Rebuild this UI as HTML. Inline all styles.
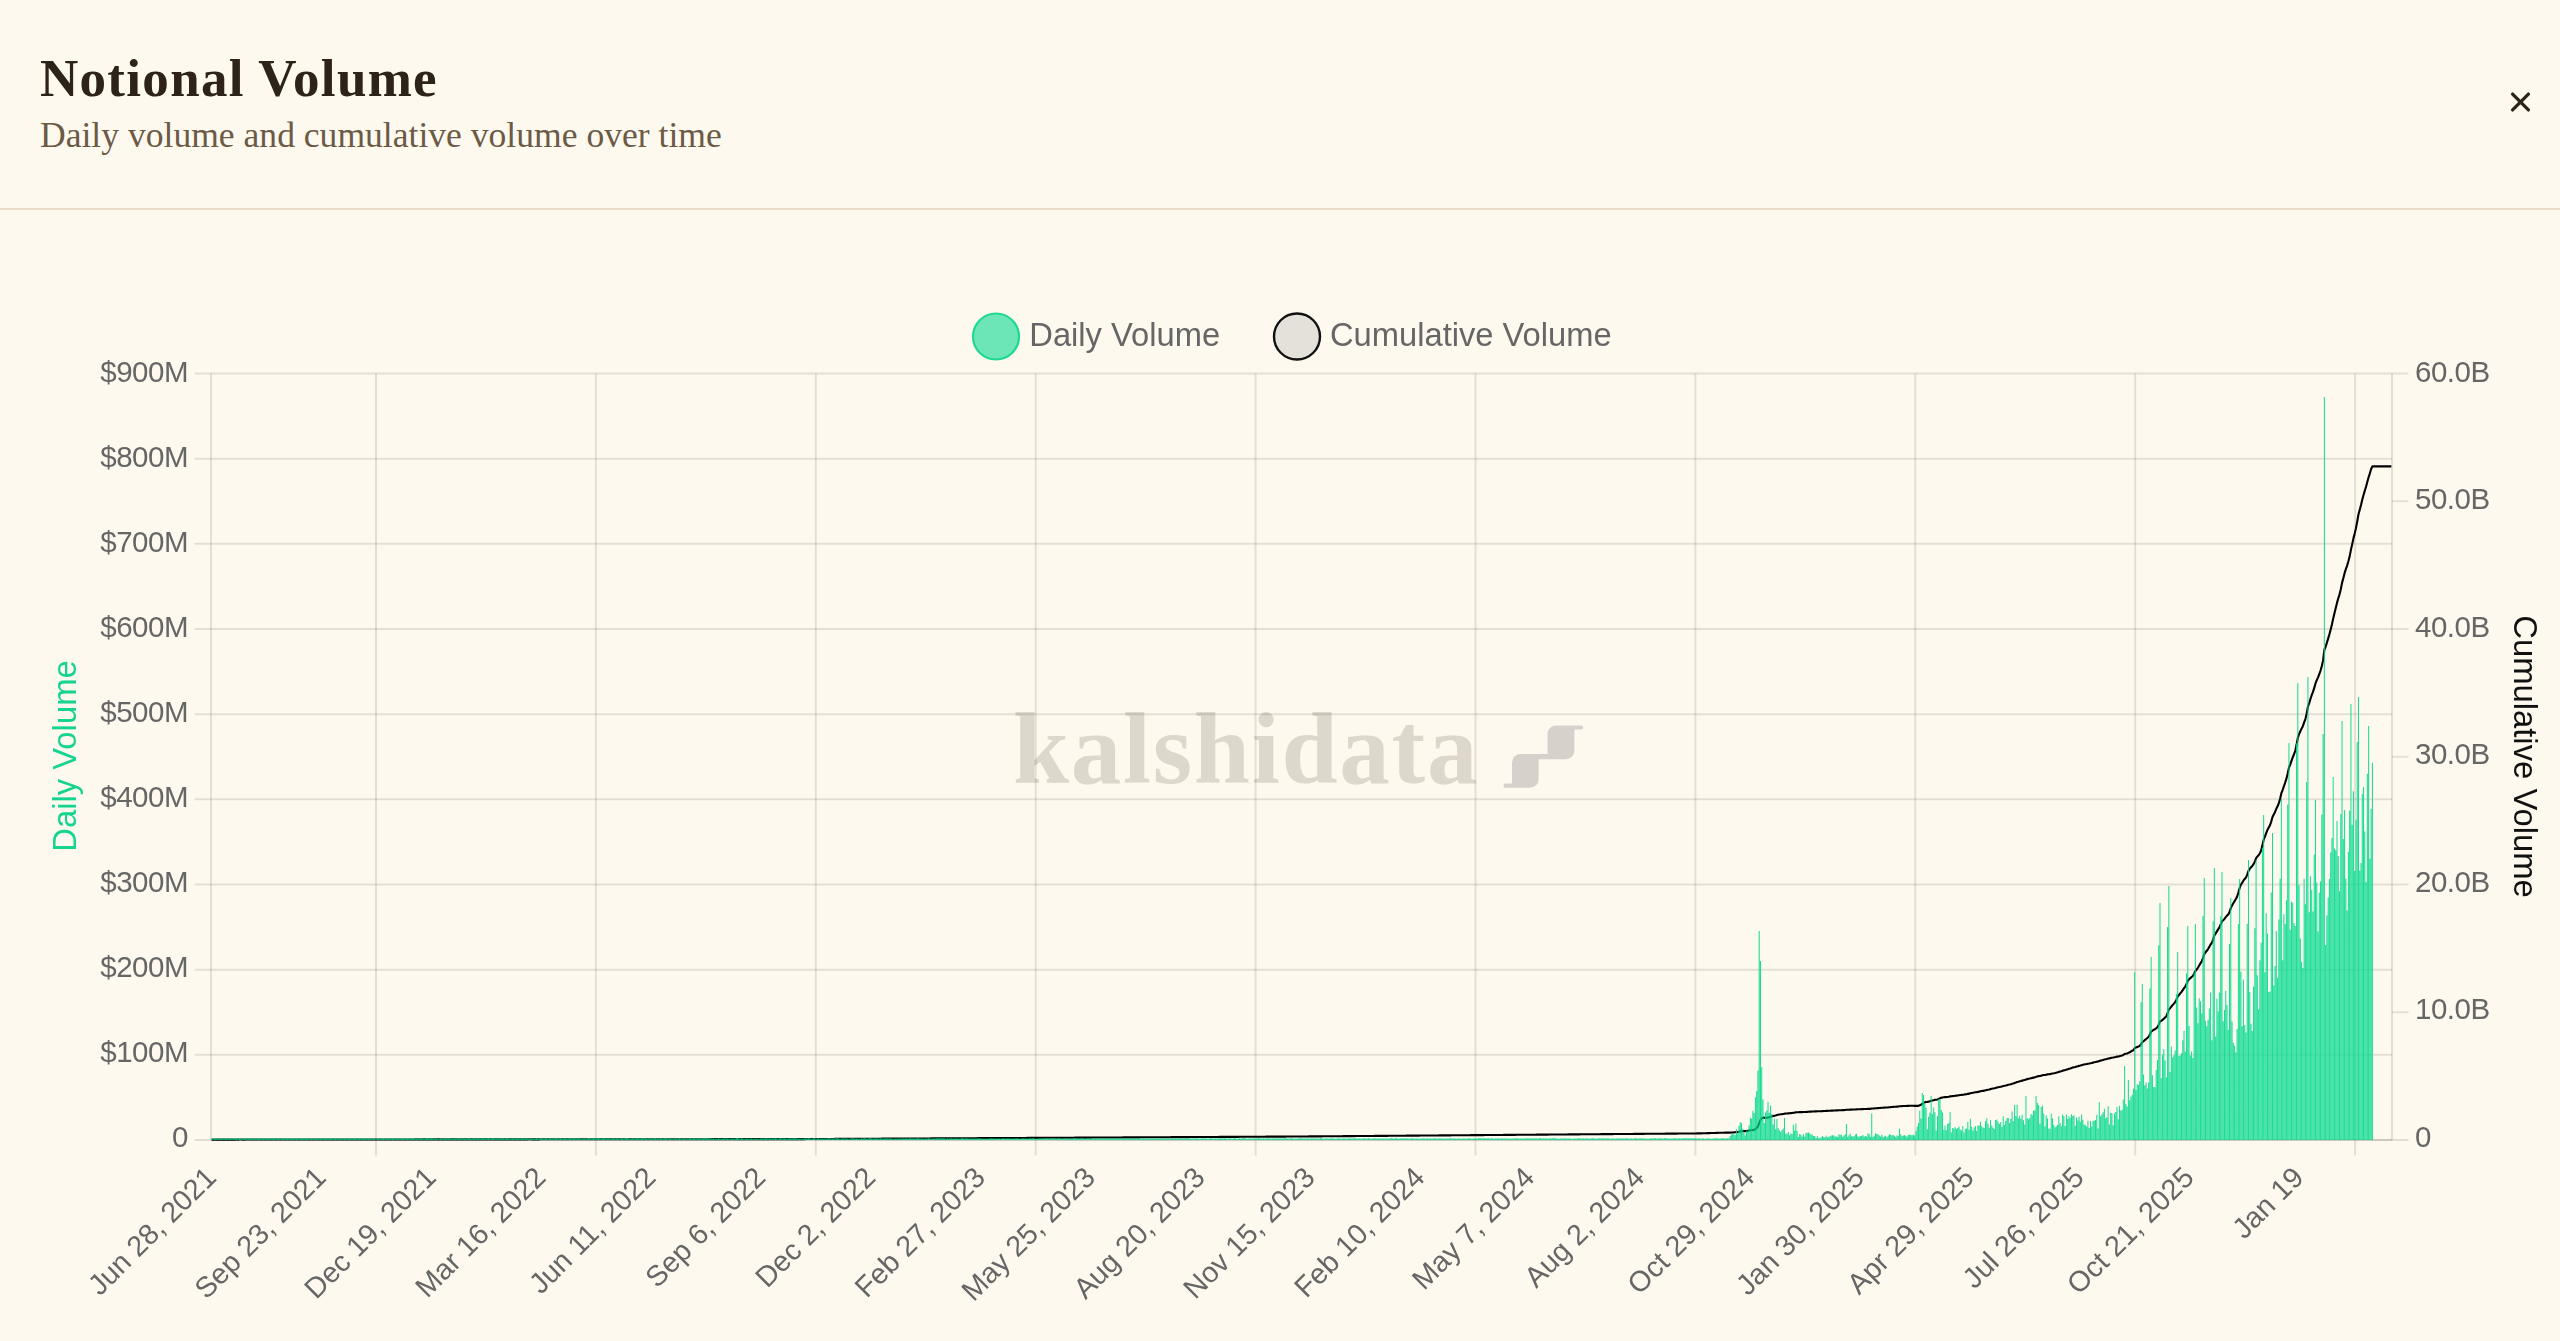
<!DOCTYPE html>
<html><head><meta charset="utf-8"><style>
html,body{margin:0;padding:0;width:2560px;height:1341px;overflow:hidden;background:#FEF9EE;}
.t{position:absolute;left:40px;top:52px;font-family:"Liberation Serif",serif;font-weight:700;font-size:53px;color:#2D2318;white-space:nowrap;letter-spacing:1.3px;line-height:1}
.s{position:absolute;left:40px;top:118px;font-family:"Liberation Serif",serif;font-size:35.6px;color:#6B5A46;white-space:nowrap;line-height:1}
.sep{position:absolute;left:0;top:208px;width:2560px;height:2px;background:#E8DCC8}
svg{position:absolute;left:0;top:0;will-change:transform}
</style></head><body>
<div class="t">Notional Volume</div>
<div class="s">Daily volume and cumulative volume over time</div>
<div class="sep"></div>
<svg width="2560" height="1341" viewBox="0 0 2560 1341">
<path d="M2512.6 94.1 L2528.4 109.9 M2528.4 94.1 L2512.6 109.9" stroke="#2D2318" stroke-width="3.3" stroke-linecap="round" fill="none"/>
<g font-family="'Liberation Serif', serif" font-weight="700" font-size="101" fill="#DDD7CC"><text x="1013" y="782.5" letter-spacing="1.7">kalshidata</text></g>
<path d="M1505.5 783.6 L1512 783.6 L1512 762.6 A8.5 8.5 0 0 1 1520.5 754.1 L1547.5 754.1 L1547.5 733.9 A8.5 8.5 0 0 1 1556 725.4 L1581.2 725.4 A2.1 2.1 0 0 1 1581.2 729.6 L1574.4 729.6 L1574.4 750.7 A8.5 8.5 0 0 1 1565.9 759.2 L1538.6 759.2 L1538.6 779.3 A8.5 8.5 0 0 1 1530.1 787.8 L1505.5 787.8 A2.1 2.1 0 0 1 1505.5 783.6 Z" fill="#D6D2CB"/>
<g stroke="#000" stroke-opacity="0.1" stroke-width="2" fill="none"><line x1="194.6" y1="373.50" x2="2392.0" y2="373.50"/><line x1="194.6" y1="458.67" x2="2392.0" y2="458.67"/><line x1="194.6" y1="543.83" x2="2392.0" y2="543.83"/><line x1="194.6" y1="629.00" x2="2392.0" y2="629.00"/><line x1="194.6" y1="714.17" x2="2392.0" y2="714.17"/><line x1="194.6" y1="799.33" x2="2392.0" y2="799.33"/><line x1="194.6" y1="884.50" x2="2392.0" y2="884.50"/><line x1="194.6" y1="969.67" x2="2392.0" y2="969.67"/><line x1="194.6" y1="1054.83" x2="2392.0" y2="1054.83"/><line x1="194.6" y1="1140.00" x2="2392.0" y2="1140.00"/><line x1="376.0" y1="373.5" x2="376.0" y2="1155.5"/><line x1="595.9" y1="373.5" x2="595.9" y2="1155.5"/><line x1="815.8" y1="373.5" x2="815.8" y2="1155.5"/><line x1="1035.7" y1="373.5" x2="1035.7" y2="1155.5"/><line x1="1255.6" y1="373.5" x2="1255.6" y2="1155.5"/><line x1="1475.5" y1="373.5" x2="1475.5" y2="1155.5"/><line x1="1695.4" y1="373.5" x2="1695.4" y2="1155.5"/><line x1="1915.3" y1="373.5" x2="1915.3" y2="1155.5"/><line x1="2135.2" y1="373.5" x2="2135.2" y2="1155.5"/><line x1="2355.1" y1="373.5" x2="2355.1" y2="1155.5"/><line x1="211.0" y1="373.5" x2="211.0" y2="1140.0"/><line x1="211.0" y1="1140.0" x2="2392.0" y2="1140.0"/><line x1="2392.0" y1="373.5" x2="2392.0" y2="1140.0"/><line x1="2392.0" y1="373.50" x2="2408.5" y2="373.50"/><line x1="2392.0" y1="501.25" x2="2408.5" y2="501.25"/><line x1="2392.0" y1="629.00" x2="2408.5" y2="629.00"/><line x1="2392.0" y1="756.75" x2="2408.5" y2="756.75"/><line x1="2392.0" y1="884.50" x2="2408.5" y2="884.50"/><line x1="2392.0" y1="1012.25" x2="2408.5" y2="1012.25"/><line x1="2392.0" y1="1140.00" x2="2408.5" y2="1140.00"/></g>
<path d="M211.63 1139.68 L212.90 1139.67 L214.16 1139.65 L215.43 1139.64 L216.69 1139.63 L217.95 1139.61 L219.22 1139.60 L220.48 1139.59 L221.75 1139.59 L223.01 1139.59 L224.28 1139.59 L225.54 1139.59 L226.80 1139.59 L228.07 1139.59 L229.33 1139.59 L230.60 1139.59 L231.86 1139.59 L233.13 1139.58 L234.39 1139.58 L235.65 1139.58 L236.92 1139.57 L238.18 1139.58 L239.45 1139.57 L240.71 1139.57 L241.98 1139.57 L243.24 1139.58 L244.51 1139.58 L245.77 1139.57 L247.03 1139.57 L248.30 1139.57 L249.56 1139.56 L250.83 1139.56 L252.09 1139.56 L253.36 1139.56 L254.62 1139.57 L255.88 1139.57 L257.15 1139.56 L258.41 1139.56 L259.68 1139.56 L260.94 1139.56 L262.21 1139.56 L263.47 1139.56 L264.73 1139.56 L266.00 1139.55 L267.26 1139.55 L268.53 1139.55 L269.79 1139.55 L271.06 1139.55 L272.32 1139.55 L273.59 1139.55 L274.85 1139.54 L276.11 1139.54 L277.38 1139.54 L278.64 1139.54 L279.91 1139.54 L281.17 1139.54 L282.44 1139.55 L283.70 1139.54 L284.96 1139.54 L286.23 1139.54 L287.49 1139.53 L288.76 1139.54 L290.02 1139.53 L291.29 1139.53 L292.55 1139.53 L293.81 1139.53 L295.08 1139.53 L296.34 1139.53 L297.61 1139.53 L298.87 1139.52 L300.14 1139.53 L301.40 1139.53 L302.67 1139.52 L303.93 1139.52 L305.19 1139.51 L306.46 1139.51 L307.72 1139.51 L308.99 1139.51 L310.25 1139.51 L311.52 1139.51 L312.78 1139.51 L314.04 1139.51 L315.31 1139.52 L316.57 1139.51 L317.84 1139.51 L319.10 1139.51 L320.37 1139.51 L321.63 1139.51 L322.89 1139.51 L324.16 1139.51 L325.42 1139.51 L326.69 1139.50 L327.95 1139.50 L329.22 1139.50 L330.48 1139.50 L331.75 1139.50 L333.01 1139.50 L334.27 1139.49 L335.54 1139.49 L336.80 1139.49 L338.07 1139.49 L339.33 1139.49 L340.60 1139.49 L341.86 1139.49 L343.12 1139.49 L344.39 1139.49 L345.65 1139.49 L346.92 1139.49 L348.18 1139.49 L349.45 1139.49 L350.71 1139.48 L351.97 1139.48 L353.24 1139.48 L354.50 1139.48 L355.77 1139.48 L357.03 1139.48 L358.30 1139.48 L359.56 1139.47 L360.83 1139.47 L362.09 1139.47 L363.35 1139.46 L364.62 1139.46 L365.88 1139.47 L367.15 1139.46 L368.41 1139.46 L369.68 1139.46 L370.94 1139.46 L372.20 1139.46 L373.47 1139.46 L374.73 1139.46 L376.00 1139.46 L377.26 1139.46 L378.53 1139.46 L379.79 1139.46 L381.05 1139.46 L382.32 1139.46 L383.58 1139.45 L384.85 1139.45 L386.11 1139.45 L387.38 1139.45 L388.64 1139.45 L389.91 1139.45 L391.17 1139.45 L392.43 1139.44 L393.70 1139.44 L394.96 1139.44 L396.23 1139.44 L397.49 1139.44 L398.76 1139.44 L400.02 1139.44 L401.28 1139.44 L402.55 1139.44 L403.81 1139.44 L405.08 1139.44 L406.34 1139.43 L407.61 1139.44 L408.87 1139.43 L410.13 1139.44 L411.40 1139.44 L412.66 1139.43 L413.93 1139.43 L415.19 1139.42 L416.46 1139.42 L417.72 1139.42 L418.99 1139.43 L420.25 1139.42 L421.51 1139.42 L422.78 1139.42 L424.04 1139.42 L425.31 1139.42 L426.57 1139.42 L427.84 1139.42 L429.10 1139.41 L430.36 1139.41 L431.63 1139.41 L432.89 1139.40 L434.16 1139.40 L435.42 1139.40 L436.69 1139.40 L437.95 1139.41 L439.21 1139.41 L440.48 1139.41 L441.74 1139.41 L443.01 1139.41 L444.27 1139.41 L445.54 1139.40 L446.80 1139.40 L448.07 1139.39 L449.33 1139.39 L450.59 1139.39 L451.86 1139.39 L453.12 1139.39 L454.39 1139.40 L455.65 1139.40 L456.92 1139.40 L458.18 1139.39 L459.44 1139.39 L460.71 1139.39 L461.97 1139.39 L463.24 1139.38 L464.50 1139.39 L465.77 1139.39 L467.03 1139.38 L468.29 1139.38 L469.56 1139.38 L470.82 1139.38 L472.09 1139.38 L473.35 1139.38 L474.62 1139.38 L475.88 1139.38 L477.15 1139.37 L478.41 1139.37 L479.67 1139.37 L480.94 1139.37 L482.20 1139.36 L483.47 1139.37 L484.73 1139.37 L486.00 1139.37 L487.26 1139.37 L488.52 1139.36 L489.79 1139.37 L491.05 1139.36 L492.32 1139.36 L493.58 1139.36 L494.85 1139.36 L496.11 1139.36 L497.37 1139.36 L498.64 1139.36 L499.90 1139.36 L501.17 1139.36 L502.43 1139.36 L503.70 1139.35 L504.96 1139.35 L506.23 1139.34 L507.49 1139.34 L508.75 1139.34 L510.02 1139.34 L511.28 1139.34 L512.55 1139.35 L513.81 1139.34 L515.08 1139.34 L516.34 1139.34 L517.60 1139.35 L518.87 1139.34 L520.13 1139.34 L521.40 1139.34 L522.66 1139.34 L523.93 1139.33 L525.19 1139.33 L526.45 1139.33 L527.72 1139.33 L528.98 1139.32 L530.25 1139.32 L531.51 1139.33 L532.78 1139.33 L534.04 1139.33 L535.31 1139.33 L536.57 1139.33 L537.83 1139.33 L539.10 1139.33 L540.36 1139.32 L541.63 1139.32 L542.89 1139.32 L544.16 1139.32 L545.42 1139.32 L546.68 1139.31 L547.95 1139.31 L549.21 1139.31 L550.48 1139.31 L551.74 1139.32 L553.01 1139.31 L554.27 1139.31 L555.53 1139.31 L556.80 1139.31 L558.06 1139.30 L559.33 1139.30 L560.59 1139.30 L561.86 1139.30 L563.12 1139.30 L564.39 1139.30 L565.65 1139.30 L566.91 1139.30 L568.18 1139.30 L569.44 1139.30 L570.71 1139.30 L571.97 1139.29 L573.24 1139.29 L574.50 1139.29 L575.76 1139.29 L577.03 1139.28 L578.29 1139.28 L579.56 1139.28 L580.82 1139.28 L582.09 1139.28 L583.35 1139.29 L584.61 1139.29 L585.88 1139.29 L587.14 1139.29 L588.41 1139.28 L589.67 1139.28 L590.94 1139.28 L592.20 1139.28 L593.47 1139.27 L594.73 1139.28 L595.99 1139.27 L597.26 1139.27 L598.52 1139.27 L599.79 1139.27 L601.05 1139.27 L602.32 1139.27 L603.58 1139.26 L604.84 1139.26 L606.11 1139.26 L607.37 1139.26 L608.64 1139.26 L609.90 1139.26 L611.17 1139.26 L612.43 1139.26 L613.69 1139.26 L614.96 1139.26 L616.22 1139.26 L617.49 1139.25 L618.75 1139.26 L620.02 1139.26 L621.28 1139.25 L622.55 1139.25 L623.81 1139.26 L625.07 1139.25 L626.34 1139.24 L627.60 1139.24 L628.87 1139.24 L630.13 1139.24 L631.40 1139.25 L632.66 1139.24 L633.92 1139.24 L635.19 1139.24 L636.45 1139.24 L637.72 1139.24 L638.98 1139.23 L640.25 1139.23 L641.51 1139.24 L642.77 1139.23 L644.04 1139.23 L645.30 1139.23 L646.57 1139.23 L647.83 1139.23 L649.10 1139.23 L650.36 1139.23 L651.63 1139.23 L652.89 1139.23 L654.15 1139.22 L655.42 1139.22 L656.68 1139.22 L657.95 1139.22 L659.21 1139.22 L660.48 1139.22 L661.74 1139.22 L663.00 1139.22 L664.27 1139.21 L665.53 1139.21 L666.80 1139.21 L668.06 1139.21 L669.33 1139.21 L670.59 1139.21 L671.85 1139.21 L673.12 1139.21 L674.38 1139.21 L675.65 1139.21 L676.91 1139.21 L678.18 1139.21 L679.44 1139.20 L680.71 1139.20 L681.97 1139.20 L683.23 1139.20 L684.50 1139.20 L685.76 1139.20 L687.03 1139.20 L688.29 1139.20 L689.56 1139.20 L690.82 1139.19 L692.08 1139.20 L693.35 1139.19 L694.61 1139.19 L695.88 1139.19 L697.14 1139.19 L698.41 1139.19 L699.67 1139.19 L700.93 1139.18 L702.20 1139.18 L703.46 1139.18 L704.73 1139.18 L705.99 1139.18 L707.26 1139.18 L708.52 1139.17 L709.79 1139.17 L711.05 1139.17 L712.31 1139.17 L713.58 1139.17 L714.84 1139.17 L716.11 1139.17 L717.37 1139.17 L718.64 1139.17 L719.90 1139.17 L721.16 1139.17 L722.43 1139.17 L723.69 1139.17 L724.96 1139.16 L726.22 1139.16 L727.49 1139.16 L728.75 1139.16 L730.01 1139.16 L731.28 1139.16 L732.54 1139.16 L733.81 1139.16 L735.07 1139.16 L736.34 1139.16 L737.60 1139.15 L738.87 1139.15 L740.13 1139.15 L741.39 1139.14 L742.66 1139.14 L743.92 1139.14 L745.19 1139.15 L746.45 1139.15 L747.72 1139.14 L748.98 1139.14 L750.24 1139.14 L751.51 1139.14 L752.77 1139.14 L754.04 1139.14 L755.30 1139.14 L756.57 1139.14 L757.83 1139.14 L759.09 1139.14 L760.36 1139.14 L761.62 1139.14 L762.89 1139.14 L764.15 1139.14 L765.42 1139.13 L766.68 1139.13 L767.95 1139.13 L769.21 1139.12 L770.47 1139.12 L771.74 1139.12 L773.00 1139.12 L774.27 1139.12 L775.53 1139.12 L776.80 1139.12 L778.06 1139.12 L779.32 1139.12 L780.59 1139.12 L781.85 1139.11 L783.12 1139.11 L784.38 1139.11 L785.65 1139.11 L786.91 1139.11 L788.17 1139.11 L789.44 1139.11 L790.70 1139.11 L791.97 1139.11 L793.23 1139.10 L794.50 1139.10 L795.76 1139.10 L797.03 1139.09 L798.29 1139.10 L799.55 1139.10 L800.82 1139.10 L802.08 1139.09 L803.35 1139.09 L804.61 1139.08 L805.88 1139.07 L807.14 1139.06 L808.40 1139.06 L809.67 1139.05 L810.93 1139.04 L812.20 1139.04 L813.46 1139.03 L814.73 1139.02 L815.99 1139.01 L817.25 1139.01 L818.52 1139.00 L819.78 1139.00 L821.05 1138.99 L822.31 1138.98 L823.58 1138.98 L824.84 1138.98 L826.11 1138.97 L827.37 1138.96 L828.63 1138.95 L829.90 1138.94 L831.16 1138.94 L832.43 1138.93 L833.69 1138.93 L834.96 1138.92 L836.22 1138.91 L837.48 1138.90 L838.75 1138.89 L840.01 1138.89 L841.28 1138.88 L842.54 1138.88 L843.81 1138.87 L845.07 1138.86 L846.33 1138.86 L847.60 1138.85 L848.86 1138.85 L850.13 1138.84 L851.39 1138.84 L852.66 1138.83 L853.92 1138.82 L855.19 1138.81 L856.45 1138.81 L857.71 1138.80 L858.98 1138.79 L860.24 1138.79 L861.51 1138.78 L862.77 1138.78 L864.04 1138.77 L865.30 1138.76 L866.56 1138.76 L867.83 1138.75 L869.09 1138.74 L870.36 1138.73 L871.62 1138.72 L872.89 1138.72 L874.15 1138.72 L875.41 1138.71 L876.68 1138.70 L877.94 1138.69 L879.21 1138.69 L880.47 1138.69 L881.74 1138.67 L883.00 1138.67 L884.27 1138.66 L885.53 1138.66 L886.79 1138.65 L888.06 1138.64 L889.32 1138.63 L890.59 1138.62 L891.85 1138.62 L893.12 1138.61 L894.38 1138.61 L895.64 1138.60 L896.91 1138.60 L898.17 1138.59 L899.44 1138.59 L900.70 1138.58 L901.97 1138.57 L903.23 1138.56 L904.49 1138.56 L905.76 1138.55 L907.02 1138.54 L908.29 1138.54 L909.55 1138.53 L910.82 1138.52 L912.08 1138.51 L913.35 1138.51 L914.61 1138.50 L915.87 1138.50 L917.14 1138.49 L918.40 1138.48 L919.67 1138.47 L920.93 1138.47 L922.20 1138.46 L923.46 1138.46 L924.72 1138.46 L925.99 1138.45 L927.25 1138.44 L928.52 1138.43 L929.78 1138.43 L931.05 1138.42 L932.31 1138.41 L933.57 1138.41 L934.84 1138.41 L936.10 1138.40 L937.37 1138.39 L938.63 1138.38 L939.90 1138.37 L941.16 1138.36 L942.43 1138.35 L943.69 1138.35 L944.95 1138.34 L946.22 1138.34 L947.48 1138.33 L948.75 1138.33 L950.01 1138.32 L951.28 1138.31 L952.54 1138.30 L953.80 1138.30 L955.07 1138.29 L956.33 1138.29 L957.60 1138.28 L958.86 1138.28 L960.13 1138.27 L961.39 1138.26 L962.65 1138.25 L963.92 1138.25 L965.18 1138.24 L966.45 1138.23 L967.71 1138.22 L968.98 1138.22 L970.24 1138.22 L971.51 1138.21 L972.77 1138.21 L974.03 1138.20 L975.30 1138.19 L976.56 1138.18 L977.83 1138.17 L979.09 1138.16 L980.36 1138.15 L981.62 1138.15 L982.88 1138.15 L984.15 1138.14 L985.41 1138.14 L986.68 1138.13 L987.94 1138.13 L989.21 1138.12 L990.47 1138.11 L991.73 1138.10 L993.00 1138.09 L994.26 1138.09 L995.53 1138.08 L996.79 1138.07 L998.06 1138.07 L999.32 1138.06 L1000.59 1138.06 L1001.85 1138.05 L1003.11 1138.04 L1004.38 1138.04 L1005.64 1138.03 L1006.91 1138.02 L1008.17 1138.01 L1009.44 1138.01 L1010.70 1138.01 L1011.96 1138.00 L1013.23 1138.00 L1014.49 1137.99 L1015.76 1137.98 L1017.02 1137.97 L1018.29 1137.96 L1019.55 1137.96 L1020.81 1137.95 L1022.08 1137.95 L1023.34 1137.94 L1024.61 1137.93 L1025.87 1137.93 L1027.14 1137.92 L1028.40 1137.92 L1029.67 1137.91 L1030.93 1137.90 L1032.19 1137.89 L1033.46 1137.88 L1034.72 1137.88 L1035.99 1137.87 L1037.25 1137.87 L1038.52 1137.87 L1039.78 1137.86 L1041.04 1137.85 L1042.31 1137.84 L1043.57 1137.83 L1044.84 1137.82 L1046.10 1137.82 L1047.37 1137.81 L1048.63 1137.81 L1049.89 1137.80 L1051.16 1137.80 L1052.42 1137.79 L1053.69 1137.78 L1054.95 1137.77 L1056.22 1137.77 L1057.48 1137.76 L1058.75 1137.75 L1060.01 1137.74 L1061.27 1137.74 L1062.54 1137.74 L1063.80 1137.73 L1065.07 1137.72 L1066.33 1137.71 L1067.60 1137.71 L1068.86 1137.70 L1070.12 1137.70 L1071.39 1137.69 L1072.65 1137.69 L1073.92 1137.68 L1075.18 1137.67 L1076.45 1137.66 L1077.71 1137.65 L1078.97 1137.65 L1080.24 1137.64 L1081.50 1137.63 L1082.77 1137.63 L1084.03 1137.62 L1085.30 1137.62 L1086.56 1137.61 L1087.83 1137.60 L1089.09 1137.60 L1090.35 1137.59 L1091.62 1137.58 L1092.88 1137.57 L1094.15 1137.57 L1095.41 1137.57 L1096.68 1137.56 L1097.94 1137.55 L1099.20 1137.55 L1100.47 1137.54 L1101.73 1137.53 L1103.00 1137.52 L1104.26 1137.52 L1105.53 1137.51 L1106.79 1137.50 L1108.05 1137.50 L1109.32 1137.49 L1110.58 1137.48 L1111.85 1137.48 L1113.11 1137.47 L1114.38 1137.47 L1115.64 1137.46 L1116.91 1137.45 L1118.17 1137.45 L1119.43 1137.44 L1120.70 1137.43 L1121.96 1137.43 L1123.23 1137.41 L1124.49 1137.41 L1125.76 1137.40 L1127.02 1137.40 L1128.28 1137.39 L1129.55 1137.39 L1130.81 1137.38 L1132.08 1137.38 L1133.34 1137.38 L1134.61 1137.37 L1135.87 1137.36 L1137.13 1137.35 L1138.40 1137.34 L1139.66 1137.33 L1140.93 1137.32 L1142.19 1137.32 L1143.46 1137.31 L1144.72 1137.30 L1145.99 1137.30 L1147.25 1137.29 L1148.51 1137.28 L1149.78 1137.28 L1151.04 1137.27 L1152.31 1137.27 L1153.57 1137.27 L1154.84 1137.26 L1156.10 1137.25 L1157.36 1137.24 L1158.63 1137.24 L1159.89 1137.23 L1161.16 1137.22 L1162.42 1137.22 L1163.69 1137.21 L1164.95 1137.20 L1166.21 1137.19 L1167.48 1137.19 L1168.74 1137.18 L1170.01 1137.18 L1171.27 1137.17 L1172.54 1137.16 L1173.80 1137.16 L1175.07 1137.15 L1176.33 1137.14 L1177.59 1137.14 L1178.86 1137.13 L1180.12 1137.12 L1181.39 1137.12 L1182.65 1137.11 L1183.92 1137.11 L1185.18 1137.10 L1186.44 1137.10 L1187.71 1137.09 L1188.97 1137.08 L1190.24 1137.07 L1191.50 1137.07 L1192.77 1137.05 L1194.03 1137.05 L1195.29 1137.04 L1196.56 1137.04 L1197.82 1137.03 L1199.09 1137.03 L1200.35 1137.02 L1201.62 1137.02 L1202.88 1137.01 L1204.15 1137.00 L1205.41 1136.99 L1206.67 1136.99 L1207.94 1136.98 L1209.20 1136.98 L1210.47 1136.97 L1211.73 1136.96 L1213.00 1136.95 L1214.26 1136.95 L1215.52 1136.94 L1216.79 1136.94 L1218.05 1136.93 L1219.32 1136.92 L1220.58 1136.91 L1221.85 1136.91 L1223.11 1136.90 L1224.37 1136.89 L1225.64 1136.88 L1226.90 1136.88 L1228.17 1136.87 L1229.43 1136.87 L1230.70 1136.86 L1231.96 1136.85 L1233.23 1136.85 L1234.49 1136.84 L1235.75 1136.83 L1237.02 1136.83 L1238.28 1136.83 L1239.55 1136.82 L1240.81 1136.81 L1242.08 1136.80 L1243.34 1136.79 L1244.60 1136.78 L1245.87 1136.78 L1247.13 1136.77 L1248.40 1136.77 L1249.66 1136.76 L1250.93 1136.76 L1252.19 1136.75 L1253.45 1136.75 L1254.72 1136.74 L1255.98 1136.73 L1257.25 1136.72 L1258.51 1136.72 L1259.78 1136.71 L1261.04 1136.70 L1262.31 1136.70 L1263.57 1136.69 L1264.83 1136.68 L1266.10 1136.67 L1267.36 1136.67 L1268.63 1136.66 L1269.89 1136.66 L1271.16 1136.65 L1272.42 1136.65 L1273.68 1136.64 L1274.95 1136.63 L1276.21 1136.62 L1277.48 1136.62 L1278.74 1136.61 L1280.01 1136.60 L1281.27 1136.60 L1282.53 1136.59 L1283.80 1136.59 L1285.06 1136.58 L1286.33 1136.57 L1287.59 1136.57 L1288.86 1136.56 L1290.12 1136.55 L1291.39 1136.54 L1292.65 1136.53 L1293.91 1136.53 L1295.18 1136.52 L1296.44 1136.52 L1297.71 1136.52 L1298.97 1136.51 L1300.24 1136.50 L1301.50 1136.49 L1302.76 1136.48 L1304.03 1136.47 L1305.29 1136.46 L1306.56 1136.45 L1307.82 1136.44 L1309.09 1136.42 L1310.35 1136.42 L1311.61 1136.41 L1312.88 1136.40 L1314.14 1136.39 L1315.41 1136.38 L1316.67 1136.37 L1317.94 1136.36 L1319.20 1136.35 L1320.47 1136.34 L1321.73 1136.33 L1322.99 1136.32 L1324.26 1136.31 L1325.52 1136.30 L1326.79 1136.29 L1328.05 1136.28 L1329.32 1136.27 L1330.58 1136.27 L1331.84 1136.25 L1333.11 1136.24 L1334.37 1136.23 L1335.64 1136.23 L1336.90 1136.22 L1338.17 1136.20 L1339.43 1136.19 L1340.69 1136.19 L1341.96 1136.18 L1343.22 1136.17 L1344.49 1136.16 L1345.75 1136.15 L1347.02 1136.14 L1348.28 1136.13 L1349.55 1136.12 L1350.81 1136.11 L1352.07 1136.10 L1353.34 1136.09 L1354.60 1136.08 L1355.87 1136.06 L1357.13 1136.05 L1358.40 1136.05 L1359.66 1136.04 L1360.92 1136.03 L1362.19 1136.02 L1363.45 1136.01 L1364.72 1136.00 L1365.98 1135.99 L1367.25 1135.98 L1368.51 1135.96 L1369.77 1135.96 L1371.04 1135.95 L1372.30 1135.94 L1373.57 1135.93 L1374.83 1135.92 L1376.10 1135.91 L1377.36 1135.90 L1378.63 1135.89 L1379.89 1135.88 L1381.15 1135.87 L1382.42 1135.86 L1383.68 1135.86 L1384.95 1135.85 L1386.21 1135.83 L1387.48 1135.83 L1388.74 1135.82 L1390.00 1135.80 L1391.27 1135.79 L1392.53 1135.78 L1393.80 1135.78 L1395.06 1135.76 L1396.33 1135.75 L1397.59 1135.74 L1398.85 1135.74 L1400.12 1135.72 L1401.38 1135.72 L1402.65 1135.70 L1403.91 1135.69 L1405.18 1135.68 L1406.44 1135.67 L1407.71 1135.66 L1408.97 1135.66 L1410.23 1135.65 L1411.50 1135.63 L1412.76 1135.62 L1414.03 1135.61 L1415.29 1135.61 L1416.56 1135.60 L1417.82 1135.59 L1419.08 1135.58 L1420.35 1135.57 L1421.61 1135.56 L1422.88 1135.55 L1424.14 1135.54 L1425.41 1135.53 L1426.67 1135.52 L1427.93 1135.51 L1429.20 1135.50 L1430.46 1135.49 L1431.73 1135.48 L1432.99 1135.47 L1434.26 1135.46 L1435.52 1135.45 L1436.79 1135.44 L1438.05 1135.43 L1439.31 1135.42 L1440.58 1135.41 L1441.84 1135.40 L1443.11 1135.39 L1444.37 1135.38 L1445.64 1135.37 L1446.90 1135.36 L1448.16 1135.35 L1449.43 1135.34 L1450.69 1135.33 L1451.96 1135.32 L1453.22 1135.31 L1454.49 1135.30 L1455.75 1135.29 L1457.01 1135.28 L1458.28 1135.27 L1459.54 1135.26 L1460.81 1135.26 L1462.07 1135.25 L1463.34 1135.23 L1464.60 1135.23 L1465.87 1135.22 L1467.13 1135.21 L1468.39 1135.20 L1469.66 1135.18 L1470.92 1135.17 L1472.19 1135.17 L1473.45 1135.16 L1474.72 1135.15 L1475.98 1135.14 L1477.24 1135.13 L1478.51 1135.12 L1479.77 1135.11 L1481.04 1135.10 L1482.30 1135.08 L1483.57 1135.08 L1484.83 1135.07 L1486.09 1135.06 L1487.36 1135.05 L1488.62 1135.03 L1489.89 1135.03 L1491.15 1135.02 L1492.42 1135.00 L1493.68 1135.00 L1494.95 1134.99 L1496.21 1134.98 L1497.47 1134.97 L1498.74 1134.96 L1500.00 1134.95 L1501.27 1134.94 L1502.53 1134.93 L1503.80 1134.92 L1505.06 1134.91 L1506.32 1134.90 L1507.59 1134.89 L1508.85 1134.88 L1510.12 1134.87 L1511.38 1134.86 L1512.65 1134.86 L1513.91 1134.85 L1515.17 1134.84 L1516.44 1134.82 L1517.70 1134.81 L1518.97 1134.80 L1520.23 1134.79 L1521.50 1134.78 L1522.76 1134.78 L1524.03 1134.77 L1525.29 1134.76 L1526.55 1134.74 L1527.82 1134.74 L1529.08 1134.73 L1530.35 1134.71 L1531.61 1134.71 L1532.88 1134.69 L1534.14 1134.68 L1535.40 1134.68 L1536.67 1134.66 L1537.93 1134.66 L1539.20 1134.64 L1540.46 1134.63 L1541.73 1134.63 L1542.99 1134.61 L1544.25 1134.60 L1545.52 1134.60 L1546.78 1134.59 L1548.05 1134.58 L1549.31 1134.57 L1550.58 1134.56 L1551.84 1134.55 L1553.11 1134.53 L1554.37 1134.52 L1555.63 1134.51 L1556.90 1134.50 L1558.16 1134.50 L1559.43 1134.49 L1560.69 1134.48 L1561.96 1134.47 L1563.22 1134.46 L1564.48 1134.45 L1565.75 1134.44 L1567.01 1134.43 L1568.28 1134.42 L1569.54 1134.41 L1570.81 1134.40 L1572.07 1134.39 L1573.33 1134.38 L1574.60 1134.38 L1575.86 1134.37 L1577.13 1134.36 L1578.39 1134.34 L1579.66 1134.33 L1580.92 1134.32 L1582.19 1134.31 L1583.45 1134.30 L1584.71 1134.30 L1585.98 1134.28 L1587.24 1134.27 L1588.51 1134.27 L1589.77 1134.26 L1591.04 1134.25 L1592.30 1134.23 L1593.56 1134.22 L1594.83 1134.21 L1596.09 1134.20 L1597.36 1134.20 L1598.62 1134.19 L1599.89 1134.18 L1601.15 1134.17 L1602.41 1134.16 L1603.68 1134.15 L1604.94 1134.13 L1606.21 1134.12 L1607.47 1134.12 L1608.74 1134.10 L1610.00 1134.10 L1611.27 1134.09 L1612.53 1134.08 L1613.79 1134.07 L1615.06 1134.06 L1616.32 1134.05 L1617.59 1134.04 L1618.85 1134.03 L1620.12 1134.02 L1621.38 1134.01 L1622.64 1134.00 L1623.91 1133.99 L1625.17 1133.98 L1626.44 1133.97 L1627.70 1133.96 L1628.97 1133.95 L1630.23 1133.94 L1631.49 1133.93 L1632.76 1133.93 L1634.02 1133.91 L1635.29 1133.90 L1636.55 1133.89 L1637.82 1133.88 L1639.08 1133.87 L1640.35 1133.86 L1641.61 1133.85 L1642.87 1133.84 L1644.14 1133.83 L1645.40 1133.82 L1646.67 1133.81 L1647.93 1133.81 L1649.20 1133.80 L1650.46 1133.79 L1651.72 1133.78 L1652.99 1133.77 L1654.25 1133.75 L1655.52 1133.74 L1656.78 1133.73 L1658.05 1133.72 L1659.31 1133.72 L1660.57 1133.70 L1661.84 1133.69 L1663.10 1133.69 L1664.37 1133.68 L1665.63 1133.66 L1666.90 1133.66 L1668.16 1133.64 L1669.43 1133.64 L1670.69 1133.63 L1671.95 1133.62 L1673.22 1133.61 L1674.48 1133.60 L1675.75 1133.59 L1677.01 1133.58 L1678.28 1133.57 L1679.54 1133.56 L1680.80 1133.55 L1682.07 1133.54 L1683.33 1133.53 L1684.60 1133.52 L1685.86 1133.51 L1687.13 1133.50 L1688.39 1133.49 L1689.65 1133.48 L1690.92 1133.47 L1692.18 1133.46 L1693.45 1133.45 L1694.71 1133.44 L1695.98 1133.43 L1697.24 1133.42 L1698.51 1133.41 L1699.77 1133.40 L1701.03 1133.37 L1702.30 1133.32 L1703.56 1133.29 L1704.83 1133.25 L1706.09 1133.21 L1707.36 1133.17 L1708.62 1133.13 L1709.88 1133.09 L1711.15 1133.06 L1712.41 1133.02 L1713.68 1132.98 L1714.94 1132.94 L1716.21 1132.89 L1717.47 1132.85 L1718.73 1132.82 L1720.00 1132.78 L1721.26 1132.74 L1722.53 1132.71 L1723.79 1132.68 L1725.06 1132.65 L1726.32 1132.63 L1727.59 1132.62 L1728.85 1132.61 L1730.11 1132.58 L1731.38 1132.54 L1732.64 1132.46 L1733.91 1132.35 L1735.17 1132.26 L1736.44 1132.08 L1737.70 1131.97 L1738.96 1131.76 L1740.23 1131.50 L1741.49 1131.28 L1742.76 1131.15 L1744.02 1131.11 L1745.29 1131.13 L1746.55 1131.11 L1747.81 1130.89 L1749.08 1130.52 L1750.34 1130.23 L1751.61 1130.11 L1752.87 1129.94 L1754.14 1129.83 L1755.40 1129.14 L1756.67 1127.97 L1757.93 1126.52 L1759.19 1122.99 L1760.46 1119.89 L1761.72 1118.39 L1762.99 1117.63 L1764.25 1117.82 L1765.52 1117.83 L1766.78 1117.77 L1768.04 1117.54 L1769.31 1117.27 L1770.57 1116.73 L1771.84 1116.32 L1773.10 1116.04 L1774.37 1115.66 L1775.63 1115.43 L1776.89 1115.03 L1778.16 1114.74 L1779.42 1114.46 L1780.69 1114.28 L1781.95 1114.15 L1783.22 1113.99 L1784.48 1113.66 L1785.75 1113.57 L1787.01 1113.47 L1788.27 1113.35 L1789.54 1113.26 L1790.80 1113.15 L1792.07 1113.05 L1793.33 1112.79 L1794.60 1112.61 L1795.86 1112.32 L1797.12 1112.19 L1798.39 1112.19 L1799.65 1112.14 L1800.92 1112.11 L1802.18 1112.11 L1803.45 1112.06 L1804.71 1112.04 L1805.97 1111.95 L1807.24 1111.86 L1808.50 1111.76 L1809.77 1111.67 L1811.03 1111.60 L1812.30 1111.52 L1813.56 1111.46 L1814.83 1111.40 L1816.09 1111.37 L1817.35 1111.31 L1818.62 1111.27 L1819.88 1111.23 L1821.15 1111.18 L1822.41 1111.10 L1823.68 1111.04 L1824.94 1110.99 L1826.20 1110.91 L1827.47 1110.86 L1828.73 1110.80 L1830.00 1110.74 L1831.26 1110.66 L1832.53 1110.59 L1833.79 1110.52 L1835.05 1110.46 L1836.32 1110.41 L1837.58 1110.38 L1838.85 1110.30 L1840.11 1110.24 L1841.38 1110.18 L1842.64 1110.14 L1843.91 1110.09 L1845.17 1110.02 L1846.43 1109.79 L1847.70 1109.76 L1848.96 1109.71 L1850.23 1109.63 L1851.49 1109.59 L1852.76 1109.55 L1854.02 1109.51 L1855.28 1109.43 L1856.55 1109.34 L1857.81 1109.29 L1859.08 1109.24 L1860.34 1109.19 L1861.61 1109.13 L1862.87 1109.08 L1864.13 1109.06 L1865.40 1109.02 L1866.66 1108.99 L1867.93 1108.91 L1869.19 1108.85 L1870.46 1108.84 L1871.72 1108.47 L1872.99 1108.45 L1874.25 1108.40 L1875.51 1108.29 L1876.78 1108.18 L1878.04 1108.08 L1879.31 1107.99 L1880.57 1107.92 L1881.84 1107.80 L1883.10 1107.72 L1884.36 1107.63 L1885.63 1107.53 L1886.89 1107.44 L1888.16 1107.34 L1889.42 1107.21 L1890.69 1107.09 L1891.95 1106.99 L1893.21 1106.88 L1894.48 1106.78 L1895.74 1106.70 L1897.01 1106.60 L1898.27 1106.51 L1899.54 1106.30 L1900.80 1106.20 L1902.07 1106.14 L1903.33 1106.07 L1904.59 1106.00 L1905.86 1105.94 L1907.12 1105.90 L1908.39 1105.84 L1909.65 1105.78 L1910.92 1105.75 L1912.18 1105.74 L1913.44 1105.77 L1914.71 1105.85 L1915.97 1105.89 L1917.24 1105.89 L1918.50 1105.85 L1919.77 1105.20 L1921.03 1104.66 L1922.29 1103.78 L1923.56 1102.95 L1924.82 1102.33 L1926.09 1101.95 L1927.35 1101.88 L1928.62 1101.63 L1929.88 1101.34 L1931.15 1100.81 L1932.41 1100.54 L1933.67 1100.15 L1934.94 1099.80 L1936.20 1099.72 L1937.47 1099.41 L1938.73 1098.84 L1940.00 1098.26 L1941.26 1097.83 L1942.52 1097.42 L1943.79 1097.25 L1945.05 1097.11 L1946.32 1097.08 L1947.58 1096.94 L1948.85 1096.76 L1950.11 1096.38 L1951.37 1096.29 L1952.64 1096.12 L1953.90 1095.95 L1955.17 1095.76 L1956.43 1095.60 L1957.70 1095.42 L1958.96 1095.22 L1960.23 1095.05 L1961.49 1094.90 L1962.75 1094.69 L1964.02 1094.58 L1965.28 1094.40 L1966.55 1094.20 L1967.81 1093.86 L1969.08 1093.64 L1970.34 1093.26 L1971.60 1093.01 L1972.87 1092.81 L1974.13 1092.58 L1975.40 1092.32 L1976.66 1092.14 L1977.93 1091.89 L1979.19 1091.64 L1980.45 1091.33 L1981.72 1091.09 L1982.98 1090.87 L1984.25 1090.66 L1985.51 1090.35 L1986.78 1090.00 L1988.04 1089.74 L1989.31 1089.48 L1990.57 1089.11 L1991.83 1088.82 L1993.10 1088.56 L1994.36 1088.34 L1995.63 1087.97 L1996.89 1087.60 L1998.16 1087.27 L1999.42 1086.98 L2000.68 1086.66 L2001.95 1086.41 L2003.21 1086.02 L2004.48 1085.77 L2005.74 1085.48 L2007.01 1085.14 L2008.27 1084.83 L2009.53 1084.59 L2010.80 1084.26 L2012.06 1083.80 L2013.33 1083.49 L2014.59 1082.94 L2015.86 1082.55 L2017.12 1082.02 L2018.39 1081.69 L2019.65 1081.32 L2020.91 1081.00 L2022.18 1080.62 L2023.44 1080.32 L2024.71 1080.08 L2025.97 1079.43 L2027.24 1079.11 L2028.50 1078.83 L2029.76 1078.53 L2031.03 1078.17 L2032.29 1077.87 L2033.56 1077.61 L2034.82 1077.36 L2036.09 1076.86 L2037.35 1076.47 L2038.61 1076.11 L2039.88 1076.02 L2041.14 1075.66 L2042.41 1075.29 L2043.67 1075.02 L2044.94 1074.94 L2046.20 1074.66 L2047.47 1074.40 L2048.73 1074.28 L2049.99 1074.16 L2051.26 1073.80 L2052.52 1073.48 L2053.79 1073.27 L2055.05 1073.00 L2056.32 1072.68 L2057.58 1072.35 L2058.84 1071.89 L2060.11 1071.56 L2061.37 1071.26 L2062.64 1070.79 L2063.90 1070.35 L2065.17 1070.07 L2066.43 1069.63 L2067.69 1069.25 L2068.96 1068.83 L2070.22 1068.45 L2071.49 1068.01 L2072.75 1067.60 L2074.02 1067.18 L2075.28 1066.91 L2076.55 1066.53 L2077.81 1066.23 L2079.07 1065.87 L2080.34 1065.57 L2081.60 1065.16 L2082.87 1064.82 L2084.13 1064.54 L2085.40 1064.27 L2086.66 1064.03 L2087.92 1063.70 L2089.19 1063.47 L2090.45 1063.16 L2091.72 1062.92 L2092.98 1062.61 L2094.25 1062.31 L2095.51 1062.01 L2096.77 1061.64 L2098.04 1061.48 L2099.30 1060.95 L2100.57 1060.63 L2101.83 1060.29 L2103.10 1059.93 L2104.36 1059.51 L2105.63 1059.24 L2106.89 1058.96 L2108.15 1058.53 L2109.42 1058.36 L2110.68 1058.03 L2111.95 1057.70 L2113.21 1057.56 L2114.48 1057.25 L2115.74 1056.97 L2117.00 1056.63 L2118.27 1056.47 L2119.53 1056.16 L2120.80 1055.83 L2122.06 1055.45 L2123.33 1054.94 L2124.59 1053.96 L2125.85 1053.68 L2127.12 1053.46 L2128.38 1052.88 L2129.65 1052.28 L2130.91 1051.50 L2132.18 1050.79 L2133.44 1050.15 L2134.71 1047.91 L2135.97 1047.45 L2137.23 1046.94 L2138.50 1046.43 L2139.76 1045.88 L2141.03 1044.25 L2142.29 1042.32 L2143.56 1041.19 L2144.82 1040.10 L2146.08 1038.98 L2147.35 1037.96 L2148.61 1036.87 L2149.88 1034.51 L2151.14 1031.78 L2152.41 1030.73 L2153.67 1029.94 L2154.93 1029.25 L2156.20 1028.32 L2157.46 1027.25 L2158.73 1024.62 L2159.99 1021.46 L2161.26 1020.81 L2162.52 1019.83 L2163.79 1018.80 L2165.05 1017.56 L2166.31 1016.50 L2167.58 1013.25 L2168.84 1009.38 L2170.11 1008.15 L2171.37 1006.56 L2172.64 1005.13 L2173.90 1003.68 L2175.16 1002.17 L2176.43 999.73 L2177.69 996.61 L2178.96 995.01 L2180.22 993.45 L2181.49 991.85 L2182.75 990.06 L2184.01 988.13 L2185.28 986.58 L2186.54 984.04 L2187.81 980.88 L2189.07 979.25 L2190.34 978.12 L2191.60 976.98 L2192.87 975.97 L2194.13 973.79 L2195.39 971.05 L2196.66 969.52 L2197.92 967.76 L2199.19 965.49 L2200.45 963.32 L2201.72 961.38 L2202.98 958.00 L2204.24 954.11 L2205.51 952.41 L2206.77 950.76 L2208.04 949.04 L2209.30 946.88 L2210.57 944.50 L2211.83 942.93 L2213.09 939.61 L2214.36 935.36 L2215.62 933.64 L2216.89 931.39 L2218.15 929.35 L2219.42 927.25 L2220.68 924.57 L2221.95 921.36 L2223.21 920.30 L2224.47 918.89 L2225.74 917.18 L2227.00 915.63 L2228.27 914.44 L2229.53 912.03 L2230.80 908.16 L2232.06 905.59 L2233.32 903.32 L2234.59 901.14 L2235.85 899.01 L2237.12 896.51 L2238.38 892.54 L2239.65 887.98 L2240.91 884.72 L2242.17 882.98 L2243.44 880.60 L2244.70 878.96 L2245.97 877.56 L2247.23 874.70 L2248.50 870.83 L2249.76 868.80 L2251.03 867.27 L2252.29 865.95 L2253.55 864.14 L2254.82 861.66 L2256.08 858.22 L2257.35 856.52 L2258.61 855.25 L2259.88 853.25 L2261.14 850.55 L2262.40 845.27 L2263.67 839.65 L2264.93 836.70 L2266.20 833.13 L2267.46 829.89 L2268.73 827.57 L2269.99 825.28 L2271.25 821.57 L2272.52 817.02 L2273.78 814.60 L2275.05 811.96 L2276.31 808.78 L2277.58 806.33 L2278.84 803.10 L2280.11 798.79 L2281.37 793.24 L2282.63 790.04 L2283.90 786.23 L2285.16 782.61 L2286.43 778.64 L2287.69 773.47 L2288.96 767.62 L2290.22 764.56 L2291.48 760.96 L2292.75 757.38 L2294.01 754.05 L2295.28 750.81 L2296.54 744.82 L2297.81 737.95 L2299.07 734.18 L2300.33 731.23 L2301.60 728.65 L2302.86 726.18 L2304.13 722.38 L2305.39 719.03 L2306.66 713.79 L2307.92 706.75 L2309.19 703.14 L2310.45 699.04 L2311.71 695.22 L2312.98 691.88 L2314.24 687.83 L2315.51 683.47 L2316.77 680.18 L2318.04 677.39 L2319.30 674.04 L2320.56 670.51 L2321.83 666.02 L2323.09 660.39 L2324.36 649.78 L2325.62 646.78 L2326.89 642.78 L2328.15 638.62 L2329.41 634.22 L2330.68 629.42 L2331.94 624.40 L2333.21 618.47 L2334.47 613.18 L2335.74 608.05 L2337.00 602.89 L2338.27 598.34 L2339.53 594.34 L2340.79 589.23 L2342.06 582.86 L2343.32 578.21 L2344.59 573.18 L2345.85 569.17 L2347.12 565.63 L2348.38 561.32 L2349.64 556.59 L2350.91 549.88 L2352.17 544.36 L2353.44 538.38 L2354.70 533.61 L2355.97 528.13 L2357.23 521.50 L2358.49 514.28 L2359.76 509.75 L2361.02 504.93 L2362.29 499.44 L2363.55 494.92 L2364.82 490.67 L2366.08 486.55 L2367.35 481.79 L2368.61 477.26 L2369.87 473.38 L2371.14 469.02 L2372.40 466.40 L2373.67 466.40 L2374.93 466.40 L2376.20 466.40 L2377.46 466.40 L2378.72 466.40 L2379.99 466.40 L2381.25 466.40 L2382.52 466.40 L2383.78 466.40 L2385.05 466.40 L2386.31 466.40 L2387.57 466.40 L2388.84 466.40 L2390.10 466.40 L2391.37 466.40" stroke="#000" stroke-width="2.1" fill="none" stroke-linejoin="round"/>
<path d="M211.11 1138.51h1.05V1140.0h-1.05zM212.37 1138.61h1.05V1140.0h-1.05zM213.64 1138.31h1.05V1140.0h-1.05zM214.90 1138.66h1.05V1140.0h-1.05zM216.16 1138.38h1.05V1140.0h-1.05zM217.43 1138.48h1.05V1140.0h-1.05zM218.69 1138.67h1.05V1140.0h-1.05zM219.96 1138.40h1.05V1140.0h-1.05zM221.22 1138.68h1.05V1140.0h-1.05zM222.49 1138.44h1.05V1140.0h-1.05zM223.75 1138.66h1.05V1140.0h-1.05zM225.02 1138.65h1.05V1140.0h-1.05zM226.28 1138.45h1.05V1140.0h-1.05zM227.54 1138.20h1.05V1140.0h-1.05zM228.81 1138.63h1.05V1140.0h-1.05zM230.07 1138.57h1.05V1140.0h-1.05zM231.34 1138.32h1.05V1140.0h-1.05zM232.60 1138.13h1.05V1140.0h-1.05zM233.87 1138.35h1.05V1140.0h-1.05zM235.13 1138.46h1.05V1140.0h-1.05zM236.39 1138.11h1.05V1140.0h-1.05zM237.66 1138.67h1.05V1140.0h-1.05zM238.92 1138.18h1.05V1140.0h-1.05zM240.19 1138.53h1.05V1140.0h-1.05zM241.45 1138.61h1.05V1140.0h-1.05zM242.72 1138.63h1.05V1140.0h-1.05zM243.98 1138.51h1.05V1140.0h-1.05zM245.24 1138.21h1.05V1140.0h-1.05zM246.51 1138.59h1.05V1140.0h-1.05zM247.77 1138.35h1.05V1140.0h-1.05zM249.04 1138.32h1.05V1140.0h-1.05zM250.30 1138.48h1.05V1140.0h-1.05zM251.57 1138.37h1.05V1140.0h-1.05zM252.83 1138.66h1.05V1140.0h-1.05zM254.10 1138.66h1.05V1140.0h-1.05zM255.36 1138.58h1.05V1140.0h-1.05zM256.62 1138.29h1.05V1140.0h-1.05zM257.89 1138.44h1.05V1140.0h-1.05zM259.15 1138.51h1.05V1140.0h-1.05zM260.42 1138.35h1.05V1140.0h-1.05zM261.68 1138.43h1.05V1140.0h-1.05zM262.95 1138.52h1.05V1140.0h-1.05zM264.21 1138.22h1.05V1140.0h-1.05zM265.47 1138.28h1.05V1140.0h-1.05zM266.74 1138.55h1.05V1140.0h-1.05zM268.00 1138.36h1.05V1140.0h-1.05zM269.27 1138.38h1.05V1140.0h-1.05zM270.53 1138.17h1.05V1140.0h-1.05zM271.80 1138.26h1.05V1140.0h-1.05zM273.06 1138.53h1.05V1140.0h-1.05zM274.32 1138.11h1.05V1140.0h-1.05zM275.59 1138.63h1.05V1140.0h-1.05zM276.85 1138.45h1.05V1140.0h-1.05zM278.12 1138.25h1.05V1140.0h-1.05zM279.38 1138.61h1.05V1140.0h-1.05zM280.65 1138.41h1.05V1140.0h-1.05zM281.91 1138.68h1.05V1140.0h-1.05zM283.18 1138.30h1.05V1140.0h-1.05zM284.44 1138.24h1.05V1140.0h-1.05zM285.70 1138.36h1.05V1140.0h-1.05zM286.97 1138.17h1.05V1140.0h-1.05zM288.23 1138.51h1.05V1140.0h-1.05zM289.50 1138.28h1.05V1140.0h-1.05zM290.76 1138.34h1.05V1140.0h-1.05zM292.03 1138.35h1.05V1140.0h-1.05zM293.29 1138.43h1.05V1140.0h-1.05zM294.55 1138.20h1.05V1140.0h-1.05zM295.82 1138.13h1.05V1140.0h-1.05zM297.08 1138.42h1.05V1140.0h-1.05zM298.35 1138.30h1.05V1140.0h-1.05zM299.61 1138.66h1.05V1140.0h-1.05zM300.88 1138.28h1.05V1140.0h-1.05zM302.14 1138.31h1.05V1140.0h-1.05zM303.40 1138.10h1.05V1140.0h-1.05zM304.67 1138.21h1.05V1140.0h-1.05zM305.93 1138.53h1.05V1140.0h-1.05zM307.20 1138.47h1.05V1140.0h-1.05zM308.46 1138.30h1.05V1140.0h-1.05zM309.73 1138.69h1.05V1140.0h-1.05zM310.99 1138.42h1.05V1140.0h-1.05zM312.26 1138.60h1.05V1140.0h-1.05zM313.52 1138.63h1.05V1140.0h-1.05zM314.78 1138.66h1.05V1140.0h-1.05zM316.05 1138.24h1.05V1140.0h-1.05zM317.31 1138.62h1.05V1140.0h-1.05zM318.58 1138.55h1.05V1140.0h-1.05zM319.84 1138.47h1.05V1140.0h-1.05zM321.11 1138.18h1.05V1140.0h-1.05zM322.37 1138.65h1.05V1140.0h-1.05zM323.63 1138.43h1.05V1140.0h-1.05zM324.90 1138.37h1.05V1140.0h-1.05zM326.16 1138.17h1.05V1140.0h-1.05zM327.43 1138.21h1.05V1140.0h-1.05zM328.69 1138.18h1.05V1140.0h-1.05zM329.96 1138.53h1.05V1140.0h-1.05zM331.22 1138.45h1.05V1140.0h-1.05zM332.48 1138.48h1.05V1140.0h-1.05zM333.75 1138.17h1.05V1140.0h-1.05zM335.01 1138.13h1.05V1140.0h-1.05zM336.28 1138.61h1.05V1140.0h-1.05zM337.54 1138.59h1.05V1140.0h-1.05zM338.81 1138.56h1.05V1140.0h-1.05zM340.07 1138.56h1.05V1140.0h-1.05zM341.34 1138.41h1.05V1140.0h-1.05zM342.60 1138.35h1.05V1140.0h-1.05zM343.86 1138.54h1.05V1140.0h-1.05zM345.13 1138.70h1.05V1140.0h-1.05zM346.39 1138.45h1.05V1140.0h-1.05zM347.66 1138.48h1.05V1140.0h-1.05zM348.92 1138.36h1.05V1140.0h-1.05zM350.19 1138.13h1.05V1140.0h-1.05zM351.45 1138.29h1.05V1140.0h-1.05zM352.71 1138.39h1.05V1140.0h-1.05zM353.98 1138.33h1.05V1140.0h-1.05zM355.24 1138.29h1.05V1140.0h-1.05zM356.51 1138.67h1.05V1140.0h-1.05zM357.77 1138.16h1.05V1140.0h-1.05zM359.04 1138.23h1.05V1140.0h-1.05zM360.30 1138.18h1.05V1140.0h-1.05zM361.56 1138.22h1.05V1140.0h-1.05zM362.83 1138.46h1.05V1140.0h-1.05zM364.09 1138.46h1.05V1140.0h-1.05zM365.36 1138.64h1.05V1140.0h-1.05zM366.62 1138.32h1.05V1140.0h-1.05zM367.89 1138.66h1.05V1140.0h-1.05zM369.15 1138.66h1.05V1140.0h-1.05zM370.42 1138.57h1.05V1140.0h-1.05zM371.68 1138.60h1.05V1140.0h-1.05zM372.94 1138.50h1.05V1140.0h-1.05zM374.21 1138.67h1.05V1140.0h-1.05zM375.47 1138.70h1.05V1140.0h-1.05zM376.74 1138.61h1.05V1140.0h-1.05zM378.00 1138.64h1.05V1140.0h-1.05zM379.27 1138.48h1.05V1140.0h-1.05zM380.53 1138.68h1.05V1140.0h-1.05zM381.79 1138.18h1.05V1140.0h-1.05zM383.06 1138.33h1.05V1140.0h-1.05zM384.32 1138.61h1.05V1140.0h-1.05zM385.59 1138.55h1.05V1140.0h-1.05zM386.85 1138.49h1.05V1140.0h-1.05zM388.12 1138.48h1.05V1140.0h-1.05zM389.38 1138.63h1.05V1140.0h-1.05zM390.64 1138.19h1.05V1140.0h-1.05zM391.91 1138.10h1.05V1140.0h-1.05zM393.17 1138.42h1.05V1140.0h-1.05zM394.44 1138.41h1.05V1140.0h-1.05zM395.70 1138.65h1.05V1140.0h-1.05zM396.97 1138.64h1.05V1140.0h-1.05zM398.23 1138.49h1.05V1140.0h-1.05zM399.50 1138.54h1.05V1140.0h-1.05zM400.76 1138.20h1.05V1140.0h-1.05zM402.02 1138.60h1.05V1140.0h-1.05zM403.29 1138.69h1.05V1140.0h-1.05zM404.55 1138.13h1.05V1140.0h-1.05zM405.82 1138.38h1.05V1140.0h-1.05zM407.08 1138.61h1.05V1140.0h-1.05zM408.35 1138.37h1.05V1140.0h-1.05zM409.61 1138.68h1.05V1140.0h-1.05zM410.87 1138.38h1.05V1140.0h-1.05zM412.14 1138.11h1.05V1140.0h-1.05zM413.40 1138.18h1.05V1140.0h-1.05zM414.67 1138.28h1.05V1140.0h-1.05zM415.93 1138.54h1.05V1140.0h-1.05zM417.20 1138.48h1.05V1140.0h-1.05zM418.46 1138.60h1.05V1140.0h-1.05zM419.72 1138.24h1.05V1140.0h-1.05zM420.99 1138.38h1.05V1140.0h-1.05zM422.25 1138.23h1.05V1140.0h-1.05zM423.52 1138.50h1.05V1140.0h-1.05zM424.78 1138.57h1.05V1140.0h-1.05zM426.05 1138.21h1.05V1140.0h-1.05zM427.31 1138.11h1.05V1140.0h-1.05zM428.58 1138.19h1.05V1140.0h-1.05zM429.84 1138.22h1.05V1140.0h-1.05zM431.10 1138.21h1.05V1140.0h-1.05zM432.37 1138.26h1.05V1140.0h-1.05zM433.63 1138.56h1.05V1140.0h-1.05zM434.90 1138.39h1.05V1140.0h-1.05zM436.16 1138.49h1.05V1140.0h-1.05zM437.43 1138.68h1.05V1140.0h-1.05zM438.69 1138.68h1.05V1140.0h-1.05zM439.95 1138.53h1.05V1140.0h-1.05zM441.22 1138.54h1.05V1140.0h-1.05zM442.48 1138.28h1.05V1140.0h-1.05zM443.75 1138.13h1.05V1140.0h-1.05zM445.01 1138.43h1.05V1140.0h-1.05zM446.28 1138.14h1.05V1140.0h-1.05zM447.54 1138.11h1.05V1140.0h-1.05zM448.80 1138.13h1.05V1140.0h-1.05zM450.07 1138.48h1.05V1140.0h-1.05zM451.33 1138.57h1.05V1140.0h-1.05zM452.60 1138.56h1.05V1140.0h-1.05zM453.86 1138.58h1.05V1140.0h-1.05zM455.13 1138.58h1.05V1140.0h-1.05zM456.39 1138.33h1.05V1140.0h-1.05zM457.66 1138.16h1.05V1140.0h-1.05zM458.92 1138.20h1.05V1140.0h-1.05zM460.18 1138.41h1.05V1140.0h-1.05zM461.45 1138.31h1.05V1140.0h-1.05zM462.71 1138.22h1.05V1140.0h-1.05zM463.98 1138.65h1.05V1140.0h-1.05zM465.24 1138.30h1.05V1140.0h-1.05zM466.51 1138.15h1.05V1140.0h-1.05zM467.77 1138.23h1.05V1140.0h-1.05zM469.03 1138.25h1.05V1140.0h-1.05zM470.30 1138.41h1.05V1140.0h-1.05zM471.56 1138.59h1.05V1140.0h-1.05zM472.83 1138.23h1.05V1140.0h-1.05zM474.09 1138.50h1.05V1140.0h-1.05zM475.36 1138.22h1.05V1140.0h-1.05zM476.62 1138.12h1.05V1140.0h-1.05zM477.88 1138.46h1.05V1140.0h-1.05zM479.15 1138.46h1.05V1140.0h-1.05zM480.41 1138.13h1.05V1140.0h-1.05zM481.68 1138.27h1.05V1140.0h-1.05zM482.94 1138.60h1.05V1140.0h-1.05zM484.21 1138.62h1.05V1140.0h-1.05zM485.47 1138.61h1.05V1140.0h-1.05zM486.74 1138.16h1.05V1140.0h-1.05zM488.00 1138.22h1.05V1140.0h-1.05zM489.26 1138.61h1.05V1140.0h-1.05zM490.53 1138.20h1.05V1140.0h-1.05zM491.79 1138.11h1.05V1140.0h-1.05zM493.06 1138.31h1.05V1140.0h-1.05zM494.32 1138.49h1.05V1140.0h-1.05zM495.59 1138.37h1.05V1140.0h-1.05zM496.85 1138.62h1.05V1140.0h-1.05zM498.11 1138.69h1.05V1140.0h-1.05zM499.38 1138.12h1.05V1140.0h-1.05zM500.64 1138.31h1.05V1140.0h-1.05zM501.91 1138.38h1.05V1140.0h-1.05zM503.17 1138.14h1.05V1140.0h-1.05zM504.44 1138.44h1.05V1140.0h-1.05zM505.70 1138.18h1.05V1140.0h-1.05zM506.96 1138.20h1.05V1140.0h-1.05zM508.23 1138.57h1.05V1140.0h-1.05zM509.49 1138.55h1.05V1140.0h-1.05zM510.76 1138.52h1.05V1140.0h-1.05zM512.02 1138.56h1.05V1140.0h-1.05zM513.29 1138.35h1.05V1140.0h-1.05zM514.55 1138.54h1.05V1140.0h-1.05zM515.82 1138.45h1.05V1140.0h-1.05zM517.08 1138.62h1.05V1140.0h-1.05zM518.34 1138.15h1.05V1140.0h-1.05zM519.61 1138.49h1.05V1140.0h-1.05zM520.87 1138.43h1.05V1140.0h-1.05zM522.14 1138.35h1.05V1140.0h-1.05zM523.40 1138.16h1.05V1140.0h-1.05zM524.67 1138.45h1.05V1140.0h-1.05zM525.93 1138.15h1.05V1140.0h-1.05zM527.19 1138.40h1.05V1140.0h-1.05zM528.46 1138.38h1.05V1140.0h-1.05zM529.72 1138.39h1.05V1140.0h-1.05zM530.99 1138.69h1.05V1140.0h-1.05zM532.25 1138.44h1.05V1140.0h-1.05zM533.52 1138.59h1.05V1140.0h-1.05zM534.78 1138.70h1.05V1140.0h-1.05zM536.04 1138.22h1.05V1140.0h-1.05zM537.31 1138.60h1.05V1140.0h-1.05zM538.57 1138.42h1.05V1140.0h-1.05zM539.84 1138.26h1.05V1140.0h-1.05zM541.10 1138.37h1.05V1140.0h-1.05zM542.37 1138.50h1.05V1140.0h-1.05zM543.63 1138.39h1.05V1140.0h-1.05zM544.90 1138.37h1.05V1140.0h-1.05zM546.16 1138.23h1.05V1140.0h-1.05zM547.42 1138.64h1.05V1140.0h-1.05zM548.69 1138.36h1.05V1140.0h-1.05zM549.95 1138.55h1.05V1140.0h-1.05zM551.22 1138.53h1.05V1140.0h-1.05zM552.48 1138.24h1.05V1140.0h-1.05zM553.75 1138.40h1.05V1140.0h-1.05zM555.01 1138.36h1.05V1140.0h-1.05zM556.27 1138.24h1.05V1140.0h-1.05zM557.54 1138.15h1.05V1140.0h-1.05zM558.80 1138.43h1.05V1140.0h-1.05zM560.07 1138.33h1.05V1140.0h-1.05zM561.33 1138.40h1.05V1140.0h-1.05zM562.60 1138.39h1.05V1140.0h-1.05zM563.86 1138.28h1.05V1140.0h-1.05zM565.12 1138.43h1.05V1140.0h-1.05zM566.39 1138.38h1.05V1140.0h-1.05zM567.65 1138.41h1.05V1140.0h-1.05zM568.92 1138.14h1.05V1140.0h-1.05zM570.18 1138.28h1.05V1140.0h-1.05zM571.45 1138.17h1.05V1140.0h-1.05zM572.71 1138.13h1.05V1140.0h-1.05zM573.98 1138.54h1.05V1140.0h-1.05zM575.24 1138.36h1.05V1140.0h-1.05zM576.50 1138.13h1.05V1140.0h-1.05zM577.77 1138.20h1.05V1140.0h-1.05zM579.03 1138.62h1.05V1140.0h-1.05zM580.30 1138.63h1.05V1140.0h-1.05zM581.56 1138.43h1.05V1140.0h-1.05zM582.83 1138.66h1.05V1140.0h-1.05zM584.09 1138.56h1.05V1140.0h-1.05zM585.35 1138.66h1.05V1140.0h-1.05zM586.62 1138.30h1.05V1140.0h-1.05zM587.88 1138.23h1.05V1140.0h-1.05zM589.15 1138.16h1.05V1140.0h-1.05zM590.41 1138.61h1.05V1140.0h-1.05zM591.68 1138.27h1.05V1140.0h-1.05zM592.94 1138.30h1.05V1140.0h-1.05zM594.20 1138.61h1.05V1140.0h-1.05zM595.47 1138.17h1.05V1140.0h-1.05zM596.73 1138.12h1.05V1140.0h-1.05zM598.00 1138.57h1.05V1140.0h-1.05zM599.26 1138.13h1.05V1140.0h-1.05zM600.53 1138.46h1.05V1140.0h-1.05zM601.79 1138.41h1.05V1140.0h-1.05zM603.06 1138.11h1.05V1140.0h-1.05zM604.32 1138.20h1.05V1140.0h-1.05zM605.58 1138.60h1.05V1140.0h-1.05zM606.85 1138.44h1.05V1140.0h-1.05zM608.11 1138.39h1.05V1140.0h-1.05zM609.38 1138.50h1.05V1140.0h-1.05zM610.64 1138.58h1.05V1140.0h-1.05zM611.91 1138.51h1.05V1140.0h-1.05zM613.17 1138.27h1.05V1140.0h-1.05zM614.43 1138.69h1.05V1140.0h-1.05zM615.70 1138.37h1.05V1140.0h-1.05zM616.96 1138.44h1.05V1140.0h-1.05zM618.23 1138.69h1.05V1140.0h-1.05zM619.49 1138.50h1.05V1140.0h-1.05zM620.76 1138.33h1.05V1140.0h-1.05zM622.02 1138.39h1.05V1140.0h-1.05zM623.28 1138.66h1.05V1140.0h-1.05zM624.55 1138.11h1.05V1140.0h-1.05zM625.81 1138.23h1.05V1140.0h-1.05zM627.08 1138.12h1.05V1140.0h-1.05zM628.34 1138.64h1.05V1140.0h-1.05zM629.61 1138.54h1.05V1140.0h-1.05zM630.87 1138.68h1.05V1140.0h-1.05zM632.14 1138.23h1.05V1140.0h-1.05zM633.40 1138.54h1.05V1140.0h-1.05zM634.66 1138.62h1.05V1140.0h-1.05zM635.93 1138.45h1.05V1140.0h-1.05zM637.19 1138.15h1.05V1140.0h-1.05zM638.46 1138.21h1.05V1140.0h-1.05zM639.72 1138.54h1.05V1140.0h-1.05zM640.99 1138.61h1.05V1140.0h-1.05zM642.25 1138.15h1.05V1140.0h-1.05zM643.51 1138.36h1.05V1140.0h-1.05zM644.78 1138.28h1.05V1140.0h-1.05zM646.04 1138.65h1.05V1140.0h-1.05zM647.31 1138.67h1.05V1140.0h-1.05zM648.57 1138.29h1.05V1140.0h-1.05zM649.84 1138.44h1.05V1140.0h-1.05zM651.10 1138.66h1.05V1140.0h-1.05zM652.36 1138.14h1.05V1140.0h-1.05zM653.63 1138.32h1.05V1140.0h-1.05zM654.89 1138.22h1.05V1140.0h-1.05zM656.16 1138.65h1.05V1140.0h-1.05zM657.42 1138.19h1.05V1140.0h-1.05zM658.69 1138.66h1.05V1140.0h-1.05zM659.95 1138.18h1.05V1140.0h-1.05zM661.22 1138.43h1.05V1140.0h-1.05zM662.48 1138.50h1.05V1140.0h-1.05zM663.74 1138.37h1.05V1140.0h-1.05zM665.01 1138.14h1.05V1140.0h-1.05zM666.27 1138.54h1.05V1140.0h-1.05zM667.54 1138.62h1.05V1140.0h-1.05zM668.80 1138.38h1.05V1140.0h-1.05zM670.07 1138.56h1.05V1140.0h-1.05zM671.33 1138.63h1.05V1140.0h-1.05zM672.59 1138.60h1.05V1140.0h-1.05zM673.86 1138.67h1.05V1140.0h-1.05zM675.12 1138.58h1.05V1140.0h-1.05zM676.39 1138.51h1.05V1140.0h-1.05zM677.65 1138.52h1.05V1140.0h-1.05zM678.92 1138.24h1.05V1140.0h-1.05zM680.18 1138.53h1.05V1140.0h-1.05zM681.44 1138.40h1.05V1140.0h-1.05zM682.71 1138.59h1.05V1140.0h-1.05zM683.97 1138.49h1.05V1140.0h-1.05zM685.24 1138.69h1.05V1140.0h-1.05zM686.50 1138.55h1.05V1140.0h-1.05zM687.77 1138.69h1.05V1140.0h-1.05zM689.03 1138.26h1.05V1140.0h-1.05zM690.30 1138.37h1.05V1140.0h-1.05zM691.56 1138.59h1.05V1140.0h-1.05zM692.82 1138.42h1.05V1140.0h-1.05zM694.09 1138.14h1.05V1140.0h-1.05zM695.35 1138.64h1.05V1140.0h-1.05zM696.62 1138.21h1.05V1140.0h-1.05zM697.88 1138.44h1.05V1140.0h-1.05zM699.15 1138.40h1.05V1140.0h-1.05zM700.41 1138.20h1.05V1140.0h-1.05zM701.67 1138.46h1.05V1140.0h-1.05zM702.94 1138.40h1.05V1140.0h-1.05zM704.20 1138.29h1.05V1140.0h-1.05zM705.47 1138.11h1.05V1140.0h-1.05zM706.73 1138.49h1.05V1140.0h-1.05zM708.00 1138.20h1.05V1140.0h-1.05zM709.26 1138.28h1.05V1140.0h-1.05zM710.52 1138.32h1.05V1140.0h-1.05zM711.79 1138.46h1.05V1140.0h-1.05zM713.05 1138.49h1.05V1140.0h-1.05zM714.32 1138.67h1.05V1140.0h-1.05zM715.58 1138.62h1.05V1140.0h-1.05zM716.85 1138.66h1.05V1140.0h-1.05zM718.11 1138.26h1.05V1140.0h-1.05zM719.38 1138.55h1.05V1140.0h-1.05zM720.64 1138.60h1.05V1140.0h-1.05zM721.90 1138.65h1.05V1140.0h-1.05zM723.17 1138.20h1.05V1140.0h-1.05zM724.43 1138.18h1.05V1140.0h-1.05zM725.70 1138.30h1.05V1140.0h-1.05zM726.96 1138.53h1.05V1140.0h-1.05zM728.23 1138.55h1.05V1140.0h-1.05zM729.49 1138.52h1.05V1140.0h-1.05zM730.75 1138.42h1.05V1140.0h-1.05zM732.02 1138.61h1.05V1140.0h-1.05zM733.28 1138.43h1.05V1140.0h-1.05zM734.55 1138.54h1.05V1140.0h-1.05zM735.81 1138.12h1.05V1140.0h-1.05zM737.08 1138.12h1.05V1140.0h-1.05zM738.34 1138.37h1.05V1140.0h-1.05zM739.60 1138.55h1.05V1140.0h-1.05zM740.87 1138.12h1.05V1140.0h-1.05zM742.13 1138.51h1.05V1140.0h-1.05zM743.40 1138.49h1.05V1140.0h-1.05zM744.66 1138.70h1.05V1140.0h-1.05zM745.93 1138.47h1.05V1140.0h-1.05zM747.19 1138.42h1.05V1140.0h-1.05zM748.46 1138.40h1.05V1140.0h-1.05zM749.72 1138.58h1.05V1140.0h-1.05zM750.98 1138.40h1.05V1140.0h-1.05zM752.25 1138.70h1.05V1140.0h-1.05zM753.51 1138.54h1.05V1140.0h-1.05zM754.78 1138.65h1.05V1140.0h-1.05zM756.04 1138.46h1.05V1140.0h-1.05zM757.31 1138.67h1.05V1140.0h-1.05zM758.57 1138.69h1.05V1140.0h-1.05zM759.83 1138.52h1.05V1140.0h-1.05zM761.10 1138.56h1.05V1140.0h-1.05zM762.36 1138.35h1.05V1140.0h-1.05zM763.63 1138.38h1.05V1140.0h-1.05zM764.89 1138.25h1.05V1140.0h-1.05zM766.16 1138.31h1.05V1140.0h-1.05zM767.42 1138.27h1.05V1140.0h-1.05zM768.68 1138.17h1.05V1140.0h-1.05zM769.95 1138.47h1.05V1140.0h-1.05zM771.21 1138.50h1.05V1140.0h-1.05zM772.48 1138.11h1.05V1140.0h-1.05zM773.74 1138.61h1.05V1140.0h-1.05zM775.01 1138.27h1.05V1140.0h-1.05zM776.27 1138.31h1.05V1140.0h-1.05zM777.54 1138.67h1.05V1140.0h-1.05zM778.80 1138.20h1.05V1140.0h-1.05zM780.06 1138.16h1.05V1140.0h-1.05zM781.33 1138.32h1.05V1140.0h-1.05zM782.59 1138.26h1.05V1140.0h-1.05zM783.86 1138.21h1.05V1140.0h-1.05zM785.12 1138.62h1.05V1140.0h-1.05zM786.39 1138.39h1.05V1140.0h-1.05zM787.65 1138.40h1.05V1140.0h-1.05zM788.91 1138.20h1.05V1140.0h-1.05zM790.18 1138.22h1.05V1140.0h-1.05zM791.44 1138.20h1.05V1140.0h-1.05zM792.71 1138.35h1.05V1140.0h-1.05zM793.97 1138.16h1.05V1140.0h-1.05zM795.24 1138.29h1.05V1140.0h-1.05zM796.50 1138.28h1.05V1140.0h-1.05zM797.76 1138.56h1.05V1140.0h-1.05zM799.03 1138.68h1.05V1140.0h-1.05zM800.29 1138.62h1.05V1140.0h-1.05zM801.56 1138.48h1.05V1140.0h-1.05zM802.82 1138.64h1.05V1140.0h-1.05zM804.09 1138.20h1.05V1140.0h-1.05zM805.35 1138.36h1.05V1140.0h-1.05zM806.62 1138.32h1.05V1140.0h-1.05zM807.88 1138.32h1.05V1140.0h-1.05zM809.14 1138.29h1.05V1140.0h-1.05zM810.41 1138.41h1.05V1140.0h-1.05zM811.67 1138.70h1.05V1140.0h-1.05zM812.94 1138.22h1.05V1140.0h-1.05zM814.20 1138.25h1.05V1140.0h-1.05zM815.47 1138.40h1.05V1140.0h-1.05zM816.73 1138.38h1.05V1140.0h-1.05zM817.99 1138.30h1.05V1140.0h-1.05zM819.26 1138.66h1.05V1140.0h-1.05zM820.52 1138.26h1.05V1140.0h-1.05zM821.79 1138.55h1.05V1140.0h-1.05zM823.05 1138.66h1.05V1140.0h-1.05zM824.32 1138.54h1.05V1140.0h-1.05zM825.58 1138.26h1.05V1140.0h-1.05zM826.84 1138.58h1.05V1140.0h-1.05zM828.11 1138.26h1.05V1140.0h-1.05zM829.37 1138.11h1.05V1140.0h-1.05zM830.64 1138.40h1.05V1140.0h-1.05zM831.90 1138.47h1.05V1140.0h-1.05zM833.17 1138.41h1.05V1140.0h-1.05zM834.43 1138.29h1.05V1140.0h-1.05zM835.70 1138.24h1.05V1140.0h-1.05zM836.96 1138.33h1.05V1140.0h-1.05zM838.22 1138.31h1.05V1140.0h-1.05zM839.49 1138.65h1.05V1140.0h-1.05zM840.75 1138.61h1.05V1140.0h-1.05zM842.02 1138.55h1.05V1140.0h-1.05zM843.28 1138.25h1.05V1140.0h-1.05zM844.55 1138.52h1.05V1140.0h-1.05zM845.81 1138.36h1.05V1140.0h-1.05zM847.07 1138.69h1.05V1140.0h-1.05zM848.34 1138.66h1.05V1140.0h-1.05zM849.60 1138.54h1.05V1140.0h-1.05zM850.87 1138.30h1.05V1140.0h-1.05zM852.13 1138.28h1.05V1140.0h-1.05zM853.40 1138.29h1.05V1140.0h-1.05zM854.66 1138.53h1.05V1140.0h-1.05zM855.92 1138.39h1.05V1140.0h-1.05zM857.19 1138.42h1.05V1140.0h-1.05zM858.45 1138.42h1.05V1140.0h-1.05zM859.72 1138.63h1.05V1140.0h-1.05zM860.98 1138.16h1.05V1140.0h-1.05zM862.25 1138.58h1.05V1140.0h-1.05zM863.51 1138.11h1.05V1140.0h-1.05zM864.78 1138.14h1.05V1140.0h-1.05zM866.04 1138.69h1.05V1140.0h-1.05zM867.30 1138.42h1.05V1140.0h-1.05zM868.57 1138.21h1.05V1140.0h-1.05zM869.83 1138.12h1.05V1140.0h-1.05zM871.10 1138.43h1.05V1140.0h-1.05zM872.36 1138.54h1.05V1140.0h-1.05zM873.63 1138.57h1.05V1140.0h-1.05zM874.89 1138.13h1.05V1140.0h-1.05zM876.15 1138.57h1.05V1140.0h-1.05zM877.42 1138.35h1.05V1140.0h-1.05zM878.68 1138.61h1.05V1140.0h-1.05zM879.95 1138.39h1.05V1140.0h-1.05zM881.21 1138.13h1.05V1140.0h-1.05zM882.48 1138.62h1.05V1140.0h-1.05zM883.74 1138.21h1.05V1140.0h-1.05zM885.00 1138.39h1.05V1140.0h-1.05zM886.27 1138.17h1.05V1140.0h-1.05zM887.53 1138.28h1.05V1140.0h-1.05zM888.80 1138.56h1.05V1140.0h-1.05zM890.06 1138.16h1.05V1140.0h-1.05zM891.33 1138.41h1.05V1140.0h-1.05zM892.59 1138.69h1.05V1140.0h-1.05zM893.86 1138.70h1.05V1140.0h-1.05zM895.12 1138.40h1.05V1140.0h-1.05zM896.38 1138.43h1.05V1140.0h-1.05zM897.65 1138.52h1.05V1140.0h-1.05zM898.91 1138.62h1.05V1140.0h-1.05zM900.18 1138.49h1.05V1140.0h-1.05zM901.44 1138.51h1.05V1140.0h-1.05zM902.71 1138.20h1.05V1140.0h-1.05zM903.97 1138.70h1.05V1140.0h-1.05zM905.23 1138.25h1.05V1140.0h-1.05zM906.50 1138.20h1.05V1140.0h-1.05zM907.76 1138.63h1.05V1140.0h-1.05zM909.03 1138.14h1.05V1140.0h-1.05zM910.29 1138.27h1.05V1140.0h-1.05zM911.56 1138.16h1.05V1140.0h-1.05zM912.82 1138.53h1.05V1140.0h-1.05zM914.08 1138.48h1.05V1140.0h-1.05zM915.35 1138.46h1.05V1140.0h-1.05zM916.61 1138.10h1.05V1140.0h-1.05zM917.88 1138.35h1.05V1140.0h-1.05zM919.14 1138.48h1.05V1140.0h-1.05zM920.41 1138.44h1.05V1140.0h-1.05zM921.67 1138.53h1.05V1140.0h-1.05zM922.94 1138.67h1.05V1140.0h-1.05zM924.20 1138.64h1.05V1140.0h-1.05zM925.46 1138.20h1.05V1140.0h-1.05zM926.73 1138.53h1.05V1140.0h-1.05zM927.99 1138.14h1.05V1140.0h-1.05zM929.26 1138.55h1.05V1140.0h-1.05zM930.52 1138.54h1.05V1140.0h-1.05zM931.79 1138.39h1.05V1140.0h-1.05zM933.05 1138.59h1.05V1140.0h-1.05zM934.31 1138.48h1.05V1140.0h-1.05zM935.58 1138.13h1.05V1140.0h-1.05zM936.84 1138.17h1.05V1140.0h-1.05zM938.11 1138.21h1.05V1140.0h-1.05zM939.37 1138.32h1.05V1140.0h-1.05zM940.64 1138.15h1.05V1140.0h-1.05zM941.90 1138.14h1.05V1140.0h-1.05zM943.16 1138.37h1.05V1140.0h-1.05zM944.43 1138.27h1.05V1140.0h-1.05zM945.69 1138.67h1.05V1140.0h-1.05zM946.96 1138.26h1.05V1140.0h-1.05zM948.22 1138.43h1.05V1140.0h-1.05zM949.49 1138.25h1.05V1140.0h-1.05zM950.75 1138.31h1.05V1140.0h-1.05zM952.02 1138.53h1.05V1140.0h-1.05zM953.28 1138.67h1.05V1140.0h-1.05zM954.54 1138.14h1.05V1140.0h-1.05zM955.81 1138.62h1.05V1140.0h-1.05zM957.07 1138.42h1.05V1140.0h-1.05zM958.34 1138.49h1.05V1140.0h-1.05zM959.60 1138.52h1.05V1140.0h-1.05zM960.87 1138.26h1.05V1140.0h-1.05zM962.13 1138.11h1.05V1140.0h-1.05zM963.39 1138.54h1.05V1140.0h-1.05zM964.66 1138.31h1.05V1140.0h-1.05zM965.92 1138.52h1.05V1140.0h-1.05zM967.19 1138.37h1.05V1140.0h-1.05zM968.45 1138.46h1.05V1140.0h-1.05zM969.72 1138.60h1.05V1140.0h-1.05zM970.98 1138.60h1.05V1140.0h-1.05zM972.24 1138.58h1.05V1140.0h-1.05zM973.51 1138.16h1.05V1140.0h-1.05zM974.77 1138.40h1.05V1140.0h-1.05zM976.04 1138.57h1.05V1140.0h-1.05zM977.30 1138.16h1.05V1140.0h-1.05zM978.57 1138.10h1.05V1140.0h-1.05zM979.83 1138.43h1.05V1140.0h-1.05zM981.10 1138.62h1.05V1140.0h-1.05zM982.36 1138.58h1.05V1140.0h-1.05zM983.62 1138.65h1.05V1140.0h-1.05zM984.89 1138.49h1.05V1140.0h-1.05zM986.15 1138.65h1.05V1140.0h-1.05zM987.42 1138.56h1.05V1140.0h-1.05zM988.68 1138.54h1.05V1140.0h-1.05zM989.95 1138.36h1.05V1140.0h-1.05zM991.21 1138.17h1.05V1140.0h-1.05zM992.47 1138.25h1.05V1140.0h-1.05zM993.74 1138.45h1.05V1140.0h-1.05zM995.00 1138.45h1.05V1140.0h-1.05zM996.27 1138.39h1.05V1140.0h-1.05zM997.53 1138.47h1.05V1140.0h-1.05zM998.80 1138.50h1.05V1140.0h-1.05zM1000.06 1138.66h1.05V1140.0h-1.05zM1001.32 1138.53h1.05V1140.0h-1.05zM1002.59 1138.12h1.05V1140.0h-1.05zM1003.85 1138.62h1.05V1140.0h-1.05zM1005.12 1138.40h1.05V1140.0h-1.05zM1006.38 1138.32h1.05V1140.0h-1.05zM1007.65 1138.18h1.05V1140.0h-1.05zM1008.91 1138.57h1.05V1140.0h-1.05zM1010.18 1138.54h1.05V1140.0h-1.05zM1011.44 1138.55h1.05V1140.0h-1.05zM1012.70 1138.46h1.05V1140.0h-1.05zM1013.97 1138.43h1.05V1140.0h-1.05zM1015.23 1138.13h1.05V1140.0h-1.05zM1016.50 1138.19h1.05V1140.0h-1.05zM1017.76 1138.18h1.05V1140.0h-1.05zM1019.03 1138.69h1.05V1140.0h-1.05zM1020.29 1138.68h1.05V1140.0h-1.05zM1021.55 1138.27h1.05V1140.0h-1.05zM1022.82 1138.16h1.05V1140.0h-1.05zM1024.08 1138.42h1.05V1140.0h-1.05zM1025.35 1138.35h1.05V1140.0h-1.05zM1026.61 1138.70h1.05V1140.0h-1.05zM1027.88 1138.47h1.05V1140.0h-1.05zM1029.14 1138.14h1.05V1140.0h-1.05zM1030.40 1138.20h1.05V1140.0h-1.05zM1031.67 1138.19h1.05V1140.0h-1.05zM1032.93 1138.12h1.05V1140.0h-1.05zM1034.20 1138.55h1.05V1140.0h-1.05zM1035.46 1138.63h1.05V1140.0h-1.05zM1036.73 1138.61h1.05V1140.0h-1.05zM1037.99 1138.39h1.05V1140.0h-1.05zM1039.26 1138.29h1.05V1140.0h-1.05zM1040.52 1138.14h1.05V1140.0h-1.05zM1041.78 1138.27h1.05V1140.0h-1.05zM1043.05 1138.31h1.05V1140.0h-1.05zM1044.31 1138.24h1.05V1140.0h-1.05zM1045.58 1138.43h1.05V1140.0h-1.05zM1046.84 1138.37h1.05V1140.0h-1.05zM1048.11 1138.68h1.05V1140.0h-1.05zM1049.37 1138.23h1.05V1140.0h-1.05zM1050.63 1138.56h1.05V1140.0h-1.05zM1051.90 1138.15h1.05V1140.0h-1.05zM1053.16 1138.31h1.05V1140.0h-1.05zM1054.43 1138.52h1.05V1140.0h-1.05zM1055.69 1138.62h1.05V1140.0h-1.05zM1056.96 1138.55h1.05V1140.0h-1.05zM1058.22 1138.32h1.05V1140.0h-1.05zM1059.48 1138.28h1.05V1140.0h-1.05zM1060.75 1138.63h1.05V1140.0h-1.05zM1062.01 1138.66h1.05V1140.0h-1.05zM1063.28 1138.39h1.05V1140.0h-1.05zM1064.54 1138.35h1.05V1140.0h-1.05zM1065.81 1138.47h1.05V1140.0h-1.05zM1067.07 1138.57h1.05V1140.0h-1.05zM1068.34 1138.34h1.05V1140.0h-1.05zM1069.60 1138.69h1.05V1140.0h-1.05zM1070.86 1138.52h1.05V1140.0h-1.05zM1072.13 1138.42h1.05V1140.0h-1.05zM1073.39 1138.12h1.05V1140.0h-1.05zM1074.66 1138.31h1.05V1140.0h-1.05zM1075.92 1138.17h1.05V1140.0h-1.05zM1077.19 1138.41h1.05V1140.0h-1.05zM1078.45 1138.56h1.05V1140.0h-1.05zM1079.71 1138.55h1.05V1140.0h-1.05zM1080.98 1138.12h1.05V1140.0h-1.05zM1082.24 1138.28h1.05V1140.0h-1.05zM1083.51 1138.52h1.05V1140.0h-1.05zM1084.77 1138.69h1.05V1140.0h-1.05zM1086.04 1138.40h1.05V1140.0h-1.05zM1087.30 1138.30h1.05V1140.0h-1.05zM1088.56 1138.45h1.05V1140.0h-1.05zM1089.83 1138.55h1.05V1140.0h-1.05zM1091.09 1138.30h1.05V1140.0h-1.05zM1092.36 1138.14h1.05V1140.0h-1.05zM1093.62 1138.56h1.05V1140.0h-1.05zM1094.89 1138.68h1.05V1140.0h-1.05zM1096.15 1138.50h1.05V1140.0h-1.05zM1097.42 1138.45h1.05V1140.0h-1.05zM1098.68 1138.29h1.05V1140.0h-1.05zM1099.94 1138.58h1.05V1140.0h-1.05zM1101.21 1138.22h1.05V1140.0h-1.05zM1102.47 1138.26h1.05V1140.0h-1.05zM1103.74 1138.40h1.05V1140.0h-1.05zM1105.00 1138.58h1.05V1140.0h-1.05zM1106.27 1138.12h1.05V1140.0h-1.05zM1107.53 1138.51h1.05V1140.0h-1.05zM1108.79 1138.21h1.05V1140.0h-1.05zM1110.06 1138.56h1.05V1140.0h-1.05zM1111.32 1138.57h1.05V1140.0h-1.05zM1112.59 1138.24h1.05V1140.0h-1.05zM1113.85 1138.52h1.05V1140.0h-1.05zM1115.12 1138.13h1.05V1140.0h-1.05zM1116.38 1138.40h1.05V1140.0h-1.05zM1117.64 1138.59h1.05V1140.0h-1.05zM1118.91 1138.57h1.05V1140.0h-1.05zM1120.17 1138.45h1.05V1140.0h-1.05zM1121.44 1138.30h1.05V1140.0h-1.05zM1122.70 1138.13h1.05V1140.0h-1.05zM1123.97 1138.61h1.05V1140.0h-1.05zM1125.23 1138.46h1.05V1140.0h-1.05zM1126.50 1138.57h1.05V1140.0h-1.05zM1127.76 1138.12h1.05V1140.0h-1.05zM1129.02 1138.61h1.05V1140.0h-1.05zM1130.29 1138.67h1.05V1140.0h-1.05zM1131.55 1138.66h1.05V1140.0h-1.05zM1132.82 1138.46h1.05V1140.0h-1.05zM1134.08 1138.16h1.05V1140.0h-1.05zM1135.35 1138.17h1.05V1140.0h-1.05zM1136.61 1138.26h1.05V1140.0h-1.05zM1137.87 1138.10h1.05V1140.0h-1.05zM1139.14 1138.14h1.05V1140.0h-1.05zM1140.40 1138.50h1.05V1140.0h-1.05zM1141.67 1138.59h1.05V1140.0h-1.05zM1142.93 1138.14h1.05V1140.0h-1.05zM1144.20 1138.25h1.05V1140.0h-1.05zM1145.46 1138.68h1.05V1140.0h-1.05zM1146.72 1138.30h1.05V1140.0h-1.05zM1147.99 1138.47h1.05V1140.0h-1.05zM1149.25 1138.48h1.05V1140.0h-1.05zM1150.52 1138.50h1.05V1140.0h-1.05zM1151.78 1138.60h1.05V1140.0h-1.05zM1153.05 1138.70h1.05V1140.0h-1.05zM1154.31 1138.53h1.05V1140.0h-1.05zM1155.58 1138.49h1.05V1140.0h-1.05zM1156.84 1138.13h1.05V1140.0h-1.05zM1158.10 1138.63h1.05V1140.0h-1.05zM1159.37 1138.12h1.05V1140.0h-1.05zM1160.63 1138.58h1.05V1140.0h-1.05zM1161.90 1138.49h1.05V1140.0h-1.05zM1163.16 1138.21h1.05V1140.0h-1.05zM1164.43 1138.21h1.05V1140.0h-1.05zM1165.69 1138.44h1.05V1140.0h-1.05zM1166.95 1138.67h1.05V1140.0h-1.05zM1168.22 1138.42h1.05V1140.0h-1.05zM1169.48 1138.48h1.05V1140.0h-1.05zM1170.75 1138.15h1.05V1140.0h-1.05zM1172.01 1138.58h1.05V1140.0h-1.05zM1173.28 1138.48h1.05V1140.0h-1.05zM1174.54 1138.16h1.05V1140.0h-1.05zM1175.80 1138.68h1.05V1140.0h-1.05zM1177.07 1138.45h1.05V1140.0h-1.05zM1178.33 1138.21h1.05V1140.0h-1.05zM1179.60 1138.24h1.05V1140.0h-1.05zM1180.86 1138.68h1.05V1140.0h-1.05zM1182.13 1138.68h1.05V1140.0h-1.05zM1183.39 1138.66h1.05V1140.0h-1.05zM1184.66 1138.15h1.05V1140.0h-1.05zM1185.92 1138.55h1.05V1140.0h-1.05zM1187.18 1138.25h1.05V1140.0h-1.05zM1188.45 1138.16h1.05V1140.0h-1.05zM1189.71 1138.50h1.05V1140.0h-1.05zM1190.98 1138.54h1.05V1140.0h-1.05zM1192.24 1138.13h1.05V1140.0h-1.05zM1193.51 1138.33h1.05V1140.0h-1.05zM1194.77 1138.54h1.05V1140.0h-1.05zM1196.03 1138.27h1.05V1140.0h-1.05zM1197.30 1138.51h1.05V1140.0h-1.05zM1198.56 1138.53h1.05V1140.0h-1.05zM1199.83 1138.70h1.05V1140.0h-1.05zM1201.09 1138.25h1.05V1140.0h-1.05zM1202.36 1138.15h1.05V1140.0h-1.05zM1203.62 1138.32h1.05V1140.0h-1.05zM1204.88 1138.13h1.05V1140.0h-1.05zM1206.15 1138.69h1.05V1140.0h-1.05zM1207.41 1138.56h1.05V1140.0h-1.05zM1208.68 1138.41h1.05V1140.0h-1.05zM1209.94 1138.13h1.05V1140.0h-1.05zM1211.21 1138.13h1.05V1140.0h-1.05zM1212.47 1138.47h1.05V1140.0h-1.05zM1213.74 1138.55h1.05V1140.0h-1.05zM1215.00 1138.44h1.05V1140.0h-1.05zM1216.26 1138.40h1.05V1140.0h-1.05zM1217.53 1138.14h1.05V1140.0h-1.05zM1218.79 1138.59h1.05V1140.0h-1.05zM1220.06 1138.22h1.05V1140.0h-1.05zM1221.32 1138.26h1.05V1140.0h-1.05zM1222.59 1138.21h1.05V1140.0h-1.05zM1223.85 1138.24h1.05V1140.0h-1.05zM1225.11 1138.34h1.05V1140.0h-1.05zM1226.38 1138.50h1.05V1140.0h-1.05zM1227.64 1138.51h1.05V1140.0h-1.05zM1228.91 1138.48h1.05V1140.0h-1.05zM1230.17 1138.23h1.05V1140.0h-1.05zM1231.44 1138.65h1.05V1140.0h-1.05zM1232.70 1138.58h1.05V1140.0h-1.05zM1233.96 1138.25h1.05V1140.0h-1.05zM1235.23 1138.55h1.05V1140.0h-1.05zM1236.49 1138.66h1.05V1140.0h-1.05zM1237.76 1138.68h1.05V1140.0h-1.05zM1239.02 1138.37h1.05V1140.0h-1.05zM1240.29 1138.50h1.05V1140.0h-1.05zM1241.55 1138.11h1.05V1140.0h-1.05zM1242.82 1138.17h1.05V1140.0h-1.05zM1244.08 1138.11h1.05V1140.0h-1.05zM1245.34 1138.54h1.05V1140.0h-1.05zM1246.61 1138.65h1.05V1140.0h-1.05zM1247.87 1138.64h1.05V1140.0h-1.05zM1249.14 1138.40h1.05V1140.0h-1.05zM1250.40 1138.27h1.05V1140.0h-1.05zM1251.67 1138.43h1.05V1140.0h-1.05zM1252.93 1138.56h1.05V1140.0h-1.05zM1254.19 1138.45h1.05V1140.0h-1.05zM1255.46 1138.33h1.05V1140.0h-1.05zM1256.72 1138.30h1.05V1140.0h-1.05zM1257.99 1138.25h1.05V1140.0h-1.05zM1259.25 1138.19h1.05V1140.0h-1.05zM1260.52 1138.30h1.05V1140.0h-1.05zM1261.78 1138.63h1.05V1140.0h-1.05zM1263.04 1138.20h1.05V1140.0h-1.05zM1264.31 1138.52h1.05V1140.0h-1.05zM1265.57 1138.36h1.05V1140.0h-1.05zM1266.84 1138.48h1.05V1140.0h-1.05zM1268.10 1138.26h1.05V1140.0h-1.05zM1269.37 1138.58h1.05V1140.0h-1.05zM1270.63 1138.55h1.05V1140.0h-1.05zM1271.90 1138.55h1.05V1140.0h-1.05zM1273.16 1138.61h1.05V1140.0h-1.05zM1274.42 1138.17h1.05V1140.0h-1.05zM1275.69 1138.35h1.05V1140.0h-1.05zM1276.95 1138.50h1.05V1140.0h-1.05zM1278.22 1138.46h1.05V1140.0h-1.05zM1279.48 1138.10h1.05V1140.0h-1.05zM1280.75 1138.40h1.05V1140.0h-1.05zM1282.01 1138.56h1.05V1140.0h-1.05zM1283.27 1138.21h1.05V1140.0h-1.05zM1284.54 1138.31h1.05V1140.0h-1.05zM1285.80 1138.11h1.05V1140.0h-1.05zM1287.07 1138.64h1.05V1140.0h-1.05zM1288.33 1138.42h1.05V1140.0h-1.05zM1289.60 1138.21h1.05V1140.0h-1.05zM1290.86 1138.20h1.05V1140.0h-1.05zM1292.12 1138.15h1.05V1140.0h-1.05zM1293.39 1138.68h1.05V1140.0h-1.05zM1294.65 1138.52h1.05V1140.0h-1.05zM1295.92 1138.63h1.05V1140.0h-1.05zM1297.18 1138.59h1.05V1140.0h-1.05zM1298.45 1138.12h1.05V1140.0h-1.05zM1299.71 1138.35h1.05V1140.0h-1.05zM1300.98 1138.14h1.05V1140.0h-1.05zM1302.24 1138.48h1.05V1140.0h-1.05zM1303.50 1138.18h1.05V1140.0h-1.05zM1304.77 1138.43h1.05V1140.0h-1.05zM1306.03 1138.54h1.05V1140.0h-1.05zM1307.30 1138.23h1.05V1140.0h-1.05zM1308.56 1138.13h1.05V1140.0h-1.05zM1309.83 1138.64h1.05V1140.0h-1.05zM1311.09 1138.34h1.05V1140.0h-1.05zM1312.35 1138.33h1.05V1140.0h-1.05zM1313.62 1138.57h1.05V1140.0h-1.05zM1314.88 1138.48h1.05V1140.0h-1.05zM1316.15 1138.62h1.05V1140.0h-1.05zM1317.41 1138.58h1.05V1140.0h-1.05zM1318.68 1138.55h1.05V1140.0h-1.05zM1319.94 1138.34h1.05V1140.0h-1.05zM1321.20 1138.31h1.05V1140.0h-1.05zM1322.47 1138.58h1.05V1140.0h-1.05zM1323.73 1138.69h1.05V1140.0h-1.05zM1325.00 1138.50h1.05V1140.0h-1.05zM1326.26 1138.29h1.05V1140.0h-1.05zM1327.53 1138.59h1.05V1140.0h-1.05zM1328.79 1138.51h1.05V1140.0h-1.05zM1330.06 1138.58h1.05V1140.0h-1.05zM1331.32 1138.22h1.05V1140.0h-1.05zM1332.58 1138.37h1.05V1140.0h-1.05zM1333.85 1138.66h1.05V1140.0h-1.05zM1335.11 1138.64h1.05V1140.0h-1.05zM1336.38 1138.46h1.05V1140.0h-1.05zM1337.64 1138.37h1.05V1140.0h-1.05zM1338.91 1138.32h1.05V1140.0h-1.05zM1340.17 1138.65h1.05V1140.0h-1.05zM1341.43 1138.60h1.05V1140.0h-1.05zM1342.70 1138.28h1.05V1140.0h-1.05zM1343.96 1138.45h1.05V1140.0h-1.05zM1345.23 1138.53h1.05V1140.0h-1.05zM1346.49 1138.52h1.05V1140.0h-1.05zM1347.76 1138.13h1.05V1140.0h-1.05zM1349.02 1138.51h1.05V1140.0h-1.05zM1350.28 1138.36h1.05V1140.0h-1.05zM1351.55 1138.49h1.05V1140.0h-1.05zM1352.81 1138.45h1.05V1140.0h-1.05zM1354.08 1138.18h1.05V1140.0h-1.05zM1355.34 1138.10h1.05V1140.0h-1.05zM1356.61 1138.48h1.05V1140.0h-1.05zM1357.87 1138.58h1.05V1140.0h-1.05zM1359.14 1138.26h1.05V1140.0h-1.05zM1360.40 1138.58h1.05V1140.0h-1.05zM1361.66 1138.70h1.05V1140.0h-1.05zM1362.93 1138.16h1.05V1140.0h-1.05zM1364.19 1138.45h1.05V1140.0h-1.05zM1365.46 1138.21h1.05V1140.0h-1.05zM1366.72 1138.46h1.05V1140.0h-1.05zM1367.99 1138.17h1.05V1140.0h-1.05zM1369.25 1138.42h1.05V1140.0h-1.05zM1370.51 1138.60h1.05V1140.0h-1.05zM1371.78 1138.69h1.05V1140.0h-1.05zM1373.04 1138.37h1.05V1140.0h-1.05zM1374.31 1138.32h1.05V1140.0h-1.05zM1375.57 1138.15h1.05V1140.0h-1.05zM1376.84 1138.65h1.05V1140.0h-1.05zM1378.10 1138.33h1.05V1140.0h-1.05zM1379.36 1138.48h1.05V1140.0h-1.05zM1380.63 1138.40h1.05V1140.0h-1.05zM1381.89 1138.61h1.05V1140.0h-1.05zM1383.16 1138.53h1.05V1140.0h-1.05zM1384.42 1138.39h1.05V1140.0h-1.05zM1385.69 1138.14h1.05V1140.0h-1.05zM1386.95 1138.63h1.05V1140.0h-1.05zM1388.22 1138.41h1.05V1140.0h-1.05zM1389.48 1138.22h1.05V1140.0h-1.05zM1390.74 1138.12h1.05V1140.0h-1.05zM1392.01 1138.58h1.05V1140.0h-1.05zM1393.27 1138.62h1.05V1140.0h-1.05zM1394.54 1138.13h1.05V1140.0h-1.05zM1395.80 1138.11h1.05V1140.0h-1.05zM1397.07 1138.41h1.05V1140.0h-1.05zM1398.33 1138.67h1.05V1140.0h-1.05zM1399.59 1138.14h1.05V1140.0h-1.05zM1400.86 1138.47h1.05V1140.0h-1.05zM1402.12 1138.16h1.05V1140.0h-1.05zM1403.39 1138.33h1.05V1140.0h-1.05zM1404.65 1138.21h1.05V1140.0h-1.05zM1405.92 1138.60h1.05V1140.0h-1.05zM1407.18 1138.23h1.05V1140.0h-1.05zM1408.44 1138.57h1.05V1140.0h-1.05zM1409.71 1138.46h1.05V1140.0h-1.05zM1410.97 1138.19h1.05V1140.0h-1.05zM1412.24 1138.20h1.05V1140.0h-1.05zM1413.50 1138.59h1.05V1140.0h-1.05zM1414.77 1138.57h1.05V1140.0h-1.05zM1416.03 1138.46h1.05V1140.0h-1.05zM1417.30 1138.39h1.05V1140.0h-1.05zM1418.56 1138.47h1.05V1140.0h-1.05zM1419.82 1138.63h1.05V1140.0h-1.05zM1421.09 1138.55h1.05V1140.0h-1.05zM1422.35 1138.27h1.05V1140.0h-1.05zM1423.62 1138.16h1.05V1140.0h-1.05zM1424.88 1138.68h1.05V1140.0h-1.05zM1426.15 1138.36h1.05V1140.0h-1.05zM1427.41 1138.25h1.05V1140.0h-1.05zM1428.67 1138.68h1.05V1140.0h-1.05zM1429.94 1138.20h1.05V1140.0h-1.05zM1431.20 1138.63h1.05V1140.0h-1.05zM1432.47 1138.34h1.05V1140.0h-1.05zM1433.73 1138.37h1.05V1140.0h-1.05zM1435.00 1138.32h1.05V1140.0h-1.05zM1436.26 1138.52h1.05V1140.0h-1.05zM1437.52 1138.45h1.05V1140.0h-1.05zM1438.79 1138.35h1.05V1140.0h-1.05zM1440.05 1138.44h1.05V1140.0h-1.05zM1441.32 1138.30h1.05V1140.0h-1.05zM1442.58 1138.43h1.05V1140.0h-1.05zM1443.85 1138.44h1.05V1140.0h-1.05zM1445.11 1138.69h1.05V1140.0h-1.05zM1446.38 1138.33h1.05V1140.0h-1.05zM1447.64 1138.41h1.05V1140.0h-1.05zM1448.90 1138.56h1.05V1140.0h-1.05zM1450.17 1138.24h1.05V1140.0h-1.05zM1451.43 1138.23h1.05V1140.0h-1.05zM1452.70 1138.43h1.05V1140.0h-1.05zM1453.96 1138.59h1.05V1140.0h-1.05zM1455.23 1138.42h1.05V1140.0h-1.05zM1456.49 1138.64h1.05V1140.0h-1.05zM1457.75 1138.62h1.05V1140.0h-1.05zM1459.02 1138.44h1.05V1140.0h-1.05zM1460.28 1138.64h1.05V1140.0h-1.05zM1461.55 1138.43h1.05V1140.0h-1.05zM1462.81 1138.39h1.05V1140.0h-1.05zM1464.08 1138.68h1.05V1140.0h-1.05zM1465.34 1138.32h1.05V1140.0h-1.05zM1466.60 1138.65h1.05V1140.0h-1.05zM1467.87 1138.26h1.05V1140.0h-1.05zM1469.13 1138.23h1.05V1140.0h-1.05zM1470.40 1138.39h1.05V1140.0h-1.05zM1471.66 1138.67h1.05V1140.0h-1.05zM1472.93 1138.40h1.05V1140.0h-1.05zM1474.19 1138.47h1.05V1140.0h-1.05zM1475.46 1138.13h1.05V1140.0h-1.05zM1476.72 1138.62h1.05V1140.0h-1.05zM1477.98 1138.19h1.05V1140.0h-1.05zM1479.25 1138.10h1.05V1140.0h-1.05zM1480.51 1138.26h1.05V1140.0h-1.05zM1481.78 1138.21h1.05V1140.0h-1.05zM1483.04 1138.58h1.05V1140.0h-1.05zM1484.31 1138.11h1.05V1140.0h-1.05zM1485.57 1138.40h1.05V1140.0h-1.05zM1486.83 1138.13h1.05V1140.0h-1.05zM1488.10 1138.15h1.05V1140.0h-1.05zM1489.36 1138.60h1.05V1140.0h-1.05zM1490.63 1138.23h1.05V1140.0h-1.05zM1491.89 1138.14h1.05V1140.0h-1.05zM1493.16 1138.66h1.05V1140.0h-1.05zM1494.42 1138.49h1.05V1140.0h-1.05zM1495.68 1138.25h1.05V1140.0h-1.05zM1496.95 1138.60h1.05V1140.0h-1.05zM1498.21 1138.16h1.05V1140.0h-1.05zM1499.48 1138.54h1.05V1140.0h-1.05zM1500.74 1138.21h1.05V1140.0h-1.05zM1502.01 1138.61h1.05V1140.0h-1.05zM1503.27 1138.40h1.05V1140.0h-1.05zM1504.54 1138.15h1.05V1140.0h-1.05zM1505.80 1138.58h1.05V1140.0h-1.05zM1507.06 1138.54h1.05V1140.0h-1.05zM1508.33 1138.40h1.05V1140.0h-1.05zM1509.59 1138.51h1.05V1140.0h-1.05zM1510.86 1138.68h1.05V1140.0h-1.05zM1512.12 1138.59h1.05V1140.0h-1.05zM1513.39 1138.60h1.05V1140.0h-1.05zM1514.65 1138.14h1.05V1140.0h-1.05zM1515.91 1138.29h1.05V1140.0h-1.05zM1517.18 1138.16h1.05V1140.0h-1.05zM1518.44 1138.60h1.05V1140.0h-1.05zM1519.71 1138.23h1.05V1140.0h-1.05zM1520.97 1138.63h1.05V1140.0h-1.05zM1522.24 1138.38h1.05V1140.0h-1.05zM1523.50 1138.32h1.05V1140.0h-1.05zM1524.76 1138.48h1.05V1140.0h-1.05zM1526.03 1138.18h1.05V1140.0h-1.05zM1527.29 1138.37h1.05V1140.0h-1.05zM1528.56 1138.35h1.05V1140.0h-1.05zM1529.82 1138.17h1.05V1140.0h-1.05zM1531.09 1138.64h1.05V1140.0h-1.05zM1532.35 1138.10h1.05V1140.0h-1.05zM1533.62 1138.32h1.05V1140.0h-1.05zM1534.88 1138.46h1.05V1140.0h-1.05zM1536.14 1138.22h1.05V1140.0h-1.05zM1537.41 1138.54h1.05V1140.0h-1.05zM1538.67 1138.11h1.05V1140.0h-1.05zM1539.94 1138.35h1.05V1140.0h-1.05zM1541.20 1138.48h1.05V1140.0h-1.05zM1542.47 1138.24h1.05V1140.0h-1.05zM1543.73 1138.43h1.05V1140.0h-1.05zM1544.99 1138.59h1.05V1140.0h-1.05zM1546.26 1138.25h1.05V1140.0h-1.05zM1547.52 1138.67h1.05V1140.0h-1.05zM1548.79 1138.21h1.05V1140.0h-1.05zM1550.05 1138.55h1.05V1140.0h-1.05zM1551.32 1138.32h1.05V1140.0h-1.05zM1552.58 1138.11h1.05V1140.0h-1.05zM1553.84 1138.35h1.05V1140.0h-1.05zM1555.11 1138.30h1.05V1140.0h-1.05zM1556.37 1138.51h1.05V1140.0h-1.05zM1557.64 1138.70h1.05V1140.0h-1.05zM1558.90 1138.68h1.05V1140.0h-1.05zM1560.17 1138.61h1.05V1140.0h-1.05zM1561.43 1138.33h1.05V1140.0h-1.05zM1562.70 1138.44h1.05V1140.0h-1.05zM1563.96 1138.39h1.05V1140.0h-1.05zM1565.22 1138.16h1.05V1140.0h-1.05zM1566.49 1138.62h1.05V1140.0h-1.05zM1567.75 1138.56h1.05V1140.0h-1.05zM1569.02 1138.31h1.05V1140.0h-1.05zM1570.28 1138.69h1.05V1140.0h-1.05zM1571.55 1138.70h1.05V1140.0h-1.05zM1572.81 1138.49h1.05V1140.0h-1.05zM1574.07 1138.64h1.05V1140.0h-1.05zM1575.34 1138.49h1.05V1140.0h-1.05zM1576.60 1138.57h1.05V1140.0h-1.05zM1577.87 1138.35h1.05V1140.0h-1.05zM1579.13 1138.35h1.05V1140.0h-1.05zM1580.40 1138.58h1.05V1140.0h-1.05zM1581.66 1138.33h1.05V1140.0h-1.05zM1582.92 1138.42h1.05V1140.0h-1.05zM1584.19 1138.62h1.05V1140.0h-1.05zM1585.45 1138.14h1.05V1140.0h-1.05zM1586.72 1138.55h1.05V1140.0h-1.05zM1587.98 1138.61h1.05V1140.0h-1.05zM1589.25 1138.64h1.05V1140.0h-1.05zM1590.51 1138.32h1.05V1140.0h-1.05zM1591.78 1138.18h1.05V1140.0h-1.05zM1593.04 1138.23h1.05V1140.0h-1.05zM1594.30 1138.46h1.05V1140.0h-1.05zM1595.57 1138.54h1.05V1140.0h-1.05zM1596.83 1138.69h1.05V1140.0h-1.05zM1598.10 1138.31h1.05V1140.0h-1.05zM1599.36 1138.36h1.05V1140.0h-1.05zM1600.63 1138.49h1.05V1140.0h-1.05zM1601.89 1138.31h1.05V1140.0h-1.05zM1603.15 1138.43h1.05V1140.0h-1.05zM1604.42 1138.14h1.05V1140.0h-1.05zM1605.68 1138.26h1.05V1140.0h-1.05zM1606.95 1138.55h1.05V1140.0h-1.05zM1608.21 1138.16h1.05V1140.0h-1.05zM1609.48 1138.67h1.05V1140.0h-1.05zM1610.74 1138.38h1.05V1140.0h-1.05zM1612.00 1138.46h1.05V1140.0h-1.05zM1613.27 1138.56h1.05V1140.0h-1.05zM1614.53 1138.66h1.05V1140.0h-1.05zM1615.80 1138.23h1.05V1140.0h-1.05zM1617.06 1138.69h1.05V1140.0h-1.05zM1618.33 1138.37h1.05V1140.0h-1.05zM1619.59 1138.14h1.05V1140.0h-1.05zM1620.86 1138.61h1.05V1140.0h-1.05zM1622.12 1138.58h1.05V1140.0h-1.05zM1623.38 1138.34h1.05V1140.0h-1.05zM1624.65 1138.40h1.05V1140.0h-1.05zM1625.91 1138.32h1.05V1140.0h-1.05zM1627.18 1138.21h1.05V1140.0h-1.05zM1628.44 1138.60h1.05V1140.0h-1.05zM1629.71 1138.51h1.05V1140.0h-1.05zM1630.97 1138.52h1.05V1140.0h-1.05zM1632.23 1138.67h1.05V1140.0h-1.05zM1633.50 1138.17h1.05V1140.0h-1.05zM1634.76 1138.23h1.05V1140.0h-1.05zM1636.03 1138.27h1.05V1140.0h-1.05zM1637.29 1138.70h1.05V1140.0h-1.05zM1638.56 1138.19h1.05V1140.0h-1.05zM1639.82 1138.25h1.05V1140.0h-1.05zM1641.08 1138.42h1.05V1140.0h-1.05zM1642.35 1138.25h1.05V1140.0h-1.05zM1643.61 1138.43h1.05V1140.0h-1.05zM1644.88 1138.56h1.05V1140.0h-1.05zM1646.14 1138.64h1.05V1140.0h-1.05zM1647.41 1138.56h1.05V1140.0h-1.05zM1648.67 1138.68h1.05V1140.0h-1.05zM1649.94 1138.50h1.05V1140.0h-1.05zM1651.20 1138.25h1.05V1140.0h-1.05zM1652.46 1138.28h1.05V1140.0h-1.05zM1653.73 1138.19h1.05V1140.0h-1.05zM1654.99 1138.27h1.05V1140.0h-1.05zM1656.26 1138.54h1.05V1140.0h-1.05zM1657.52 1138.37h1.05V1140.0h-1.05zM1658.79 1138.44h1.05V1140.0h-1.05zM1660.05 1138.23h1.05V1140.0h-1.05zM1661.31 1138.39h1.05V1140.0h-1.05zM1662.58 1138.54h1.05V1140.0h-1.05zM1663.84 1138.31h1.05V1140.0h-1.05zM1665.11 1138.12h1.05V1140.0h-1.05zM1666.37 1138.57h1.05V1140.0h-1.05zM1667.64 1138.17h1.05V1140.0h-1.05zM1668.90 1138.69h1.05V1140.0h-1.05zM1670.16 1138.54h1.05V1140.0h-1.05zM1671.43 1138.56h1.05V1140.0h-1.05zM1672.69 1138.25h1.05V1140.0h-1.05zM1673.96 1138.13h1.05V1140.0h-1.05zM1675.22 1138.25h1.05V1140.0h-1.05zM1676.49 1138.50h1.05V1140.0h-1.05zM1677.75 1138.17h1.05V1140.0h-1.05zM1679.02 1138.50h1.05V1140.0h-1.05zM1680.28 1138.56h1.05V1140.0h-1.05zM1681.54 1138.16h1.05V1140.0h-1.05zM1682.81 1138.32h1.05V1140.0h-1.05zM1684.07 1138.28h1.05V1140.0h-1.05zM1685.34 1138.30h1.05V1140.0h-1.05zM1686.60 1138.11h1.05V1140.0h-1.05zM1687.87 1138.42h1.05V1140.0h-1.05zM1689.13 1138.20h1.05V1140.0h-1.05zM1690.39 1138.28h1.05V1140.0h-1.05zM1691.66 1138.19h1.05V1140.0h-1.05zM1692.92 1138.44h1.05V1140.0h-1.05zM1694.19 1138.27h1.05V1140.0h-1.05zM1695.45 1138.36h1.05V1140.0h-1.05zM1696.72 1138.52h1.05V1140.0h-1.05zM1697.98 1138.57h1.05V1140.0h-1.05zM1699.24 1138.33h1.05V1140.0h-1.05zM1700.51 1138.65h1.05V1140.0h-1.05zM1701.77 1138.15h1.05V1140.0h-1.05zM1703.04 1138.61h1.05V1140.0h-1.05zM1704.30 1138.68h1.05V1140.0h-1.05zM1705.57 1138.64h1.05V1140.0h-1.05zM1706.83 1138.14h1.05V1140.0h-1.05zM1708.10 1138.49h1.05V1140.0h-1.05zM1709.36 1138.61h1.05V1140.0h-1.05zM1710.62 1138.68h1.05V1140.0h-1.05zM1711.89 1138.68h1.05V1140.0h-1.05zM1713.15 1138.28h1.05V1140.0h-1.05zM1714.42 1138.32h1.05V1140.0h-1.05zM1715.68 1138.28h1.05V1140.0h-1.05zM1716.95 1138.26h1.05V1140.0h-1.05zM1718.21 1138.66h1.05V1140.0h-1.05zM1719.47 1138.35h1.05V1140.0h-1.05zM1720.74 1138.48h1.05V1140.0h-1.05zM1722.00 1138.21h1.05V1140.0h-1.05zM1723.27 1138.21h1.05V1140.0h-1.05zM1724.53 1138.17h1.05V1140.0h-1.05zM1725.80 1138.66h1.05V1140.0h-1.05zM1727.06 1138.18h1.05V1140.0h-1.05zM1728.32 1138.15h1.05V1140.0h-1.05zM1729.59 1136.03h1.05V1140.0h-1.05zM1730.85 1134.48h1.05V1140.0h-1.05zM1732.12 1133.79h1.05V1140.0h-1.05zM1733.38 1134.44h1.05V1140.0h-1.05zM1734.65 1134.98h1.05V1140.0h-1.05zM1735.91 1129.33h1.05V1140.0h-1.05zM1737.18 1133.32h1.05V1140.0h-1.05zM1738.44 1125.94h1.05V1140.0h-1.05zM1739.70 1122.21h1.05V1140.0h-1.05zM1740.97 1123.20h1.05V1140.0h-1.05zM1742.23 1128.77h1.05V1140.0h-1.05zM1743.50 1133.04h1.05V1140.0h-1.05zM1744.76 1135.17h1.05V1140.0h-1.05zM1746.03 1130.77h1.05V1140.0h-1.05zM1747.29 1130.70h1.05V1140.0h-1.05zM1748.55 1125.46h1.05V1140.0h-1.05zM1749.82 1117.66h1.05V1140.0h-1.05zM1751.08 1118.67h1.05V1140.0h-1.05zM1752.35 1110.76h1.05V1140.0h-1.05zM1753.61 1113.11h1.05V1140.0h-1.05zM1754.88 1097.28h1.05V1140.0h-1.05zM1756.14 1091.37h1.05V1140.0h-1.05zM1757.40 1070.55h1.05V1140.0h-1.05zM1758.67 931.00h1.05V1140.0h-1.05zM1759.93 961.00h1.05V1140.0h-1.05zM1761.20 1067.14h1.05V1140.0h-1.05zM1762.46 1099.43h1.05V1140.0h-1.05zM1763.73 1122.89h1.05V1140.0h-1.05zM1764.99 1112.47h1.05V1140.0h-1.05zM1766.26 1110.48h1.05V1140.0h-1.05zM1767.52 1101.64h1.05V1140.0h-1.05zM1768.78 1112.84h1.05V1140.0h-1.05zM1770.05 1105.59h1.05V1140.0h-1.05zM1771.31 1113.90h1.05V1140.0h-1.05zM1772.58 1124.61h1.05V1140.0h-1.05zM1773.84 1118.45h1.05V1140.0h-1.05zM1775.11 1129.18h1.05V1140.0h-1.05zM1776.37 1119.04h1.05V1140.0h-1.05zM1777.63 1128.07h1.05V1140.0h-1.05zM1778.90 1130.42h1.05V1140.0h-1.05zM1780.16 1131.89h1.05V1140.0h-1.05zM1781.43 1129.92h1.05V1140.0h-1.05zM1782.69 1128.42h1.05V1140.0h-1.05zM1783.96 1118.00h1.05V1140.0h-1.05zM1785.22 1133.63h1.05V1140.0h-1.05zM1786.48 1133.63h1.05V1140.0h-1.05zM1787.75 1131.97h1.05V1140.0h-1.05zM1789.01 1135.28h1.05V1140.0h-1.05zM1790.28 1133.61h1.05V1140.0h-1.05zM1791.54 1134.08h1.05V1140.0h-1.05zM1792.81 1124.74h1.05V1140.0h-1.05zM1794.07 1130.48h1.05V1140.0h-1.05zM1795.34 1123.62h1.05V1140.0h-1.05zM1796.60 1131.09h1.05V1140.0h-1.05zM1797.86 1136.94h1.05V1140.0h-1.05zM1799.13 1133.94h1.05V1140.0h-1.05zM1800.39 1134.77h1.05V1140.0h-1.05zM1801.66 1136.48h1.05V1140.0h-1.05zM1802.92 1134.16h1.05V1140.0h-1.05zM1804.19 1136.61h1.05V1140.0h-1.05zM1805.45 1132.96h1.05V1140.0h-1.05zM1806.71 1132.87h1.05V1140.0h-1.05zM1807.98 1132.41h1.05V1140.0h-1.05zM1809.24 1133.23h1.05V1140.0h-1.05zM1810.51 1134.63h1.05V1140.0h-1.05zM1811.77 1134.40h1.05V1140.0h-1.05zM1813.04 1135.99h1.05V1140.0h-1.05zM1814.30 1135.94h1.05V1140.0h-1.05zM1815.56 1138.01h1.05V1140.0h-1.05zM1816.83 1135.95h1.05V1140.0h-1.05zM1818.09 1138.17h1.05V1140.0h-1.05zM1819.36 1137.70h1.05V1140.0h-1.05zM1820.62 1137.55h1.05V1140.0h-1.05zM1821.89 1135.91h1.05V1140.0h-1.05zM1823.15 1136.94h1.05V1140.0h-1.05zM1824.42 1137.26h1.05V1140.0h-1.05zM1825.68 1135.78h1.05V1140.0h-1.05zM1826.94 1137.42h1.05V1140.0h-1.05zM1828.21 1136.65h1.05V1140.0h-1.05zM1829.47 1136.30h1.05V1140.0h-1.05zM1830.74 1135.46h1.05V1140.0h-1.05zM1832.00 1135.30h1.05V1140.0h-1.05zM1833.27 1135.49h1.05V1140.0h-1.05zM1834.53 1136.38h1.05V1140.0h-1.05zM1835.79 1136.34h1.05V1140.0h-1.05zM1837.06 1136.88h1.05V1140.0h-1.05zM1838.32 1134.27h1.05V1140.0h-1.05zM1839.59 1134.88h1.05V1140.0h-1.05zM1840.85 1134.52h1.05V1140.0h-1.05zM1842.12 1136.67h1.05V1140.0h-1.05zM1843.38 1135.57h1.05V1140.0h-1.05zM1844.64 1134.19h1.05V1140.0h-1.05zM1845.91 1124.00h1.05V1140.0h-1.05zM1847.17 1136.71h1.05V1140.0h-1.05zM1848.44 1135.35h1.05V1140.0h-1.05zM1849.70 1133.64h1.05V1140.0h-1.05zM1850.97 1136.26h1.05V1140.0h-1.05zM1852.23 1136.45h1.05V1140.0h-1.05zM1853.50 1136.00h1.05V1140.0h-1.05zM1854.76 1134.38h1.05V1140.0h-1.05zM1856.02 1133.81h1.05V1140.0h-1.05zM1857.29 1136.60h1.05V1140.0h-1.05zM1858.55 1136.59h1.05V1140.0h-1.05zM1859.82 1136.22h1.05V1140.0h-1.05zM1861.08 1135.90h1.05V1140.0h-1.05zM1862.35 1135.11h1.05V1140.0h-1.05zM1863.61 1136.57h1.05V1140.0h-1.05zM1864.87 1135.89h1.05V1140.0h-1.05zM1866.14 1136.45h1.05V1140.0h-1.05zM1867.40 1133.28h1.05V1140.0h-1.05zM1868.67 1134.27h1.05V1140.0h-1.05zM1869.93 1136.81h1.05V1140.0h-1.05zM1871.20 1113.50h1.05V1140.0h-1.05zM1872.46 1136.82h1.05V1140.0h-1.05zM1873.72 1135.70h1.05V1140.0h-1.05zM1874.99 1133.32h1.05V1140.0h-1.05zM1876.25 1134.10h1.05V1140.0h-1.05zM1877.52 1134.37h1.05V1140.0h-1.05zM1878.78 1135.57h1.05V1140.0h-1.05zM1880.05 1136.53h1.05V1140.0h-1.05zM1881.31 1134.81h1.05V1140.0h-1.05zM1882.58 1136.90h1.05V1140.0h-1.05zM1883.84 1136.53h1.05V1140.0h-1.05zM1885.10 1135.84h1.05V1140.0h-1.05zM1886.37 1137.22h1.05V1140.0h-1.05zM1887.63 1135.84h1.05V1140.0h-1.05zM1888.90 1134.36h1.05V1140.0h-1.05zM1890.16 1134.76h1.05V1140.0h-1.05zM1891.43 1135.51h1.05V1140.0h-1.05zM1892.69 1135.03h1.05V1140.0h-1.05zM1893.95 1135.69h1.05V1140.0h-1.05zM1895.22 1136.91h1.05V1140.0h-1.05zM1896.48 1135.20h1.05V1140.0h-1.05zM1897.75 1135.96h1.05V1140.0h-1.05zM1899.01 1128.70h1.05V1140.0h-1.05zM1900.28 1134.17h1.05V1140.0h-1.05zM1901.54 1135.95h1.05V1140.0h-1.05zM1902.80 1135.47h1.05V1140.0h-1.05zM1904.07 1134.88h1.05V1140.0h-1.05zM1905.33 1136.08h1.05V1140.0h-1.05zM1906.60 1136.79h1.05V1140.0h-1.05zM1907.86 1135.11h1.05V1140.0h-1.05zM1909.13 1134.61h1.05V1140.0h-1.05zM1910.39 1135.02h1.05V1140.0h-1.05zM1911.66 1135.31h1.05V1140.0h-1.05zM1912.92 1134.85h1.05V1140.0h-1.05zM1914.18 1135.47h1.05V1140.0h-1.05zM1915.45 1130.69h1.05V1140.0h-1.05zM1916.71 1126.52h1.05V1140.0h-1.05zM1917.98 1123.01h1.05V1140.0h-1.05zM1919.24 1110.65h1.05V1140.0h-1.05zM1920.51 1118.40h1.05V1140.0h-1.05zM1921.77 1093.00h1.05V1140.0h-1.05zM1923.03 1095.00h1.05V1140.0h-1.05zM1924.30 1103.06h1.05V1140.0h-1.05zM1925.56 1107.70h1.05V1140.0h-1.05zM1926.83 1129.18h1.05V1140.0h-1.05zM1928.09 1116.73h1.05V1140.0h-1.05zM1929.36 1112.81h1.05V1140.0h-1.05zM1930.62 1096.00h1.05V1140.0h-1.05zM1931.88 1113.91h1.05V1140.0h-1.05zM1933.15 1107.58h1.05V1140.0h-1.05zM1934.41 1112.23h1.05V1140.0h-1.05zM1935.68 1130.60h1.05V1140.0h-1.05zM1936.94 1116.05h1.05V1140.0h-1.05zM1938.21 1099.00h1.05V1140.0h-1.05zM1939.47 1099.00h1.05V1140.0h-1.05zM1940.74 1110.00h1.05V1140.0h-1.05zM1942.00 1112.58h1.05V1140.0h-1.05zM1943.26 1129.73h1.05V1140.0h-1.05zM1944.53 1125.38h1.05V1140.0h-1.05zM1945.79 1130.32h1.05V1140.0h-1.05zM1947.06 1123.93h1.05V1140.0h-1.05zM1948.32 1122.96h1.05V1140.0h-1.05zM1949.59 1112.00h1.05V1140.0h-1.05zM1950.85 1132.41h1.05V1140.0h-1.05zM1952.11 1128.01h1.05V1140.0h-1.05zM1953.38 1128.48h1.05V1140.0h-1.05zM1954.64 1127.00h1.05V1140.0h-1.05zM1955.91 1129.05h1.05V1140.0h-1.05zM1957.17 1128.06h1.05V1140.0h-1.05zM1958.44 1126.54h1.05V1140.0h-1.05zM1959.70 1129.42h1.05V1140.0h-1.05zM1960.96 1130.53h1.05V1140.0h-1.05zM1962.23 1126.10h1.05V1140.0h-1.05zM1963.49 1132.48h1.05V1140.0h-1.05zM1964.76 1128.68h1.05V1140.0h-1.05zM1966.02 1128.53h1.05V1140.0h-1.05zM1967.29 1121.63h1.05V1140.0h-1.05zM1968.55 1129.71h1.05V1140.0h-1.05zM1969.82 1118.67h1.05V1140.0h-1.05zM1971.08 1126.65h1.05V1140.0h-1.05zM1972.34 1130.44h1.05V1140.0h-1.05zM1973.61 1127.61h1.05V1140.0h-1.05zM1974.87 1125.94h1.05V1140.0h-1.05zM1976.14 1130.91h1.05V1140.0h-1.05zM1977.40 1125.60h1.05V1140.0h-1.05zM1978.67 1125.53h1.05V1140.0h-1.05zM1979.93 1121.84h1.05V1140.0h-1.05zM1981.19 1126.33h1.05V1140.0h-1.05zM1982.46 1127.43h1.05V1140.0h-1.05zM1983.72 1127.93h1.05V1140.0h-1.05zM1984.99 1121.02h1.05V1140.0h-1.05zM1986.25 1118.32h1.05V1140.0h-1.05zM1987.52 1123.77h1.05V1140.0h-1.05zM1988.78 1127.84h1.05V1140.0h-1.05zM1990.04 1119.97h1.05V1140.0h-1.05zM1991.31 1125.43h1.05V1140.0h-1.05zM1992.57 1127.82h1.05V1140.0h-1.05zM1993.84 1128.90h1.05V1140.0h-1.05zM1995.10 1120.05h1.05V1140.0h-1.05zM1996.37 1119.53h1.05V1140.0h-1.05zM1997.63 1121.87h1.05V1140.0h-1.05zM1998.90 1124.08h1.05V1140.0h-1.05zM2000.16 1122.08h1.05V1140.0h-1.05zM2001.42 1126.86h1.05V1140.0h-1.05zM2002.69 1116.16h1.05V1140.0h-1.05zM2003.95 1124.93h1.05V1140.0h-1.05zM2005.22 1120.73h1.05V1140.0h-1.05zM2006.48 1118.05h1.05V1140.0h-1.05zM2007.75 1118.02h1.05V1140.0h-1.05zM2009.01 1123.06h1.05V1140.0h-1.05zM2010.27 1118.92h1.05V1140.0h-1.05zM2011.54 1111.42h1.05V1140.0h-1.05zM2012.80 1121.26h1.05V1140.0h-1.05zM2014.07 1105.01h1.05V1140.0h-1.05zM2015.33 1116.09h1.05V1140.0h-1.05zM2016.60 1104.80h1.05V1140.0h-1.05zM2017.86 1118.21h1.05V1140.0h-1.05zM2019.12 1115.79h1.05V1140.0h-1.05zM2020.39 1118.64h1.05V1140.0h-1.05zM2021.65 1114.79h1.05V1140.0h-1.05zM2022.92 1120.28h1.05V1140.0h-1.05zM2024.18 1124.46h1.05V1140.0h-1.05zM2025.45 1096.00h1.05V1140.0h-1.05zM2026.71 1118.31h1.05V1140.0h-1.05zM2027.98 1119.18h1.05V1140.0h-1.05zM2029.24 1117.97h1.05V1140.0h-1.05zM2030.50 1114.08h1.05V1140.0h-1.05zM2031.77 1115.28h1.05V1140.0h-1.05zM2033.03 1110.74h1.05V1140.0h-1.05zM2034.30 1110.34h1.05V1140.0h-1.05zM2035.56 1096.00h1.05V1140.0h-1.05zM2036.83 1103.00h1.05V1140.0h-1.05zM2038.09 1105.00h1.05V1140.0h-1.05zM2039.35 1123.78h1.05V1140.0h-1.05zM2040.62 1107.08h1.05V1140.0h-1.05zM2041.88 1105.49h1.05V1140.0h-1.05zM2043.15 1113.52h1.05V1140.0h-1.05zM2044.41 1126.57h1.05V1140.0h-1.05zM2045.68 1115.36h1.05V1140.0h-1.05zM2046.94 1118.57h1.05V1140.0h-1.05zM2048.20 1128.60h1.05V1140.0h-1.05zM2049.47 1128.66h1.05V1140.0h-1.05zM2050.73 1113.40h1.05V1140.0h-1.05zM2052.00 1118.20h1.05V1140.0h-1.05zM2053.26 1124.79h1.05V1140.0h-1.05zM2054.53 1127.20h1.05V1140.0h-1.05zM2055.79 1126.53h1.05V1140.0h-1.05zM2057.06 1125.06h1.05V1140.0h-1.05zM2058.32 1116.25h1.05V1140.0h-1.05zM2059.58 1123.23h1.05V1140.0h-1.05zM2060.85 1126.37h1.05V1140.0h-1.05zM2062.11 1114.18h1.05V1140.0h-1.05zM2063.38 1116.00h1.05V1140.0h-1.05zM2064.64 1126.12h1.05V1140.0h-1.05zM2065.91 1114.39h1.05V1140.0h-1.05zM2067.17 1118.98h1.05V1140.0h-1.05zM2068.43 1116.17h1.05V1140.0h-1.05zM2069.70 1118.00h1.05V1140.0h-1.05zM2070.96 1114.34h1.05V1140.0h-1.05zM2072.23 1116.06h1.05V1140.0h-1.05zM2073.49 1115.24h1.05V1140.0h-1.05zM2074.76 1125.64h1.05V1140.0h-1.05zM2076.02 1117.61h1.05V1140.0h-1.05zM2077.28 1120.23h1.05V1140.0h-1.05zM2078.55 1116.81h1.05V1140.0h-1.05zM2079.81 1121.73h1.05V1140.0h-1.05zM2081.08 1114.53h1.05V1140.0h-1.05zM2082.34 1119.84h1.05V1140.0h-1.05zM2083.61 1124.56h1.05V1140.0h-1.05zM2084.87 1125.05h1.05V1140.0h-1.05zM2086.14 1126.59h1.05V1140.0h-1.05zM2087.40 1120.85h1.05V1140.0h-1.05zM2088.66 1127.90h1.05V1140.0h-1.05zM2089.93 1121.27h1.05V1140.0h-1.05zM2091.19 1126.50h1.05V1140.0h-1.05zM2092.46 1120.87h1.05V1140.0h-1.05zM2093.72 1120.76h1.05V1140.0h-1.05zM2094.99 1120.09h1.05V1140.0h-1.05zM2096.25 1114.85h1.05V1140.0h-1.05zM2097.51 1128.51h1.05V1140.0h-1.05zM2098.78 1102.22h1.05V1140.0h-1.05zM2100.04 1116.34h1.05V1140.0h-1.05zM2101.31 1114.40h1.05V1140.0h-1.05zM2102.57 1112.29h1.05V1140.0h-1.05zM2103.84 1108.71h1.05V1140.0h-1.05zM2105.10 1118.24h1.05V1140.0h-1.05zM2106.36 1117.34h1.05V1140.0h-1.05zM2107.63 1106.25h1.05V1140.0h-1.05zM2108.89 1124.38h1.05V1140.0h-1.05zM2110.16 1112.87h1.05V1140.0h-1.05zM2111.42 1112.89h1.05V1140.0h-1.05zM2112.69 1125.34h1.05V1140.0h-1.05zM2113.95 1113.43h1.05V1140.0h-1.05zM2115.22 1111.94h1.05V1140.0h-1.05zM2116.48 1106.84h1.05V1140.0h-1.05zM2117.74 1119.15h1.05V1140.0h-1.05zM2119.01 1105.81h1.05V1140.0h-1.05zM2120.27 1110.57h1.05V1140.0h-1.05zM2121.54 1109.99h1.05V1140.0h-1.05zM2122.80 1099.42h1.05V1140.0h-1.05zM2124.07 1066.00h1.05V1140.0h-1.05zM2125.33 1104.01h1.05V1140.0h-1.05zM2126.59 1106.39h1.05V1140.0h-1.05zM2127.86 1080.00h1.05V1140.0h-1.05zM2129.12 1100.34h1.05V1140.0h-1.05zM2130.39 1096.87h1.05V1140.0h-1.05zM2131.65 1094.68h1.05V1140.0h-1.05zM2132.92 1088.54h1.05V1140.0h-1.05zM2134.18 972.00h1.05V1140.0h-1.05zM2135.44 1090.00h1.05V1140.0h-1.05zM2136.71 1084.34h1.05V1140.0h-1.05zM2137.97 1084.67h1.05V1140.0h-1.05zM2139.24 1081.35h1.05V1140.0h-1.05zM2140.50 1002.29h1.05V1140.0h-1.05zM2141.77 984.00h1.05V1140.0h-1.05zM2143.03 1074.45h1.05V1140.0h-1.05zM2144.30 1085.14h1.05V1140.0h-1.05zM2145.56 1082.62h1.05V1140.0h-1.05zM2146.82 1088.47h1.05V1140.0h-1.05zM2148.09 1082.55h1.05V1140.0h-1.05zM2149.35 988.42h1.05V1140.0h-1.05zM2150.62 957.00h1.05V1140.0h-1.05zM2151.88 1075.35h1.05V1140.0h-1.05zM2153.15 1086.97h1.05V1140.0h-1.05zM2154.41 1087.32h1.05V1140.0h-1.05zM2155.67 1069.99h1.05V1140.0h-1.05zM2156.94 1060.11h1.05V1140.0h-1.05zM2158.20 945.31h1.05V1140.0h-1.05zM2159.47 903.00h1.05V1140.0h-1.05zM2160.73 1078.21h1.05V1140.0h-1.05zM2162.00 1054.76h1.05V1140.0h-1.05zM2163.26 1049.00h1.05V1140.0h-1.05zM2164.52 1060.48h1.05V1140.0h-1.05zM2165.79 1077.35h1.05V1140.0h-1.05zM2167.05 927.05h1.05V1140.0h-1.05zM2168.32 886.00h1.05V1140.0h-1.05zM2169.58 1072.09h1.05V1140.0h-1.05zM2170.85 1046.59h1.05V1140.0h-1.05zM2172.11 1057.26h1.05V1140.0h-1.05zM2173.38 1055.36h1.05V1140.0h-1.05zM2174.64 1050.61h1.05V1140.0h-1.05zM2175.90 993.67h1.05V1140.0h-1.05zM2177.17 952.00h1.05V1140.0h-1.05zM2178.43 1056.10h1.05V1140.0h-1.05zM2179.70 1055.57h1.05V1140.0h-1.05zM2180.96 1052.94h1.05V1140.0h-1.05zM2182.23 1040.26h1.05V1140.0h-1.05zM2183.49 1030.89h1.05V1140.0h-1.05zM2184.75 1051.47h1.05V1140.0h-1.05zM2186.02 973.33h1.05V1140.0h-1.05zM2187.28 926.00h1.05V1140.0h-1.05zM2188.55 1025.96h1.05V1140.0h-1.05zM2189.81 1055.47h1.05V1140.0h-1.05zM2191.08 1051.61h1.05V1140.0h-1.05zM2192.34 1057.91h1.05V1140.0h-1.05zM2193.60 972.15h1.05V1140.0h-1.05zM2194.87 924.00h1.05V1140.0h-1.05zM2196.13 1007.57h1.05V1140.0h-1.05zM2197.40 1023.13h1.05V1140.0h-1.05zM2198.66 998.26h1.05V1140.0h-1.05zM2199.93 1001.25h1.05V1140.0h-1.05zM2201.19 1013.33h1.05V1140.0h-1.05zM2202.46 915.95h1.05V1140.0h-1.05zM2203.72 878.00h1.05V1140.0h-1.05zM2204.98 1020.68h1.05V1140.0h-1.05zM2206.25 1026.21h1.05V1140.0h-1.05zM2207.51 1020.02h1.05V1140.0h-1.05zM2208.78 1008.43h1.05V1140.0h-1.05zM2210.04 992.41h1.05V1140.0h-1.05zM2211.31 1040.28h1.05V1140.0h-1.05zM2212.57 921.20h1.05V1140.0h-1.05zM2213.83 868.00h1.05V1140.0h-1.05zM2215.10 1036.55h1.05V1140.0h-1.05zM2216.36 998.64h1.05V1140.0h-1.05zM2217.63 1011.40h1.05V1140.0h-1.05zM2218.89 992.50h1.05V1140.0h-1.05zM2220.16 916.31h1.05V1140.0h-1.05zM2221.42 872.00h1.05V1140.0h-1.05zM2222.68 1021.37h1.05V1140.0h-1.05zM2223.95 1010.03h1.05V1140.0h-1.05zM2225.21 990.91h1.05V1140.0h-1.05zM2226.48 1005.05h1.05V1140.0h-1.05zM2227.74 1029.81h1.05V1140.0h-1.05zM2229.01 943.89h1.05V1140.0h-1.05zM2230.27 898.00h1.05V1140.0h-1.05zM2231.54 1021.53h1.05V1140.0h-1.05zM2232.80 1042.71h1.05V1140.0h-1.05zM2234.06 1045.68h1.05V1140.0h-1.05zM2235.33 1052.36h1.05V1140.0h-1.05zM2236.59 1028.94h1.05V1140.0h-1.05zM2237.86 924.00h1.05V1140.0h-1.05zM2239.12 879.00h1.05V1140.0h-1.05zM2240.39 971.65h1.05V1140.0h-1.05zM2241.65 1026.26h1.05V1140.0h-1.05zM2242.91 979.40h1.05V1140.0h-1.05zM2244.18 1025.06h1.05V1140.0h-1.05zM2245.44 1032.39h1.05V1140.0h-1.05zM2246.71 923.74h1.05V1140.0h-1.05zM2247.97 860.00h1.05V1140.0h-1.05zM2249.24 991.93h1.05V1140.0h-1.05zM2250.50 1023.66h1.05V1140.0h-1.05zM2251.76 1031.04h1.05V1140.0h-1.05zM2253.03 986.69h1.05V1140.0h-1.05zM2254.29 928.13h1.05V1140.0h-1.05zM2255.56 860.00h1.05V1140.0h-1.05zM2256.82 975.24h1.05V1140.0h-1.05zM2258.09 1009.32h1.05V1140.0h-1.05zM2259.35 960.13h1.05V1140.0h-1.05zM2260.62 942.84h1.05V1140.0h-1.05zM2261.88 847.64h1.05V1140.0h-1.05zM2263.14 815.00h1.05V1140.0h-1.05zM2264.41 972.33h1.05V1140.0h-1.05zM2265.67 913.32h1.05V1140.0h-1.05zM2266.94 933.56h1.05V1140.0h-1.05zM2268.20 991.92h1.05V1140.0h-1.05zM2269.47 991.48h1.05V1140.0h-1.05zM2270.73 892.53h1.05V1140.0h-1.05zM2271.99 833.00h1.05V1140.0h-1.05zM2273.26 985.58h1.05V1140.0h-1.05zM2274.52 966.11h1.05V1140.0h-1.05zM2275.79 930.97h1.05V1140.0h-1.05zM2277.05 977.86h1.05V1140.0h-1.05zM2278.32 919.50h1.05V1140.0h-1.05zM2279.58 878.82h1.05V1140.0h-1.05zM2280.84 799.00h1.05V1140.0h-1.05zM2282.11 960.23h1.05V1140.0h-1.05zM2283.37 914.27h1.05V1140.0h-1.05zM2284.64 923.98h1.05V1140.0h-1.05zM2285.90 900.28h1.05V1140.0h-1.05zM2287.17 804.57h1.05V1140.0h-1.05zM2288.43 743.00h1.05V1140.0h-1.05zM2289.70 929.85h1.05V1140.0h-1.05zM2290.96 901.72h1.05V1140.0h-1.05zM2292.22 902.79h1.05V1140.0h-1.05zM2293.49 923.31h1.05V1140.0h-1.05zM2294.75 926.12h1.05V1140.0h-1.05zM2296.02 743.28h1.05V1140.0h-1.05zM2297.28 683.00h1.05V1140.0h-1.05zM2298.55 885.25h1.05V1140.0h-1.05zM2299.81 938.55h1.05V1140.0h-1.05zM2301.07 961.87h1.05V1140.0h-1.05zM2302.34 968.11h1.05V1140.0h-1.05zM2303.60 878.82h1.05V1140.0h-1.05zM2304.87 904.14h1.05V1140.0h-1.05zM2306.13 781.91h1.05V1140.0h-1.05zM2307.40 677.00h1.05V1140.0h-1.05zM2308.66 912.20h1.05V1140.0h-1.05zM2309.92 876.14h1.05V1140.0h-1.05zM2311.19 889.72h1.05V1140.0h-1.05zM2312.45 911.44h1.05V1140.0h-1.05zM2313.72 854.54h1.05V1140.0h-1.05zM2314.98 800.00h1.05V1140.0h-1.05zM2316.25 882.44h1.05V1140.0h-1.05zM2317.51 931.58h1.05V1140.0h-1.05zM2318.78 892.79h1.05V1140.0h-1.05zM2320.04 881.49h1.05V1140.0h-1.05zM2321.30 814.49h1.05V1140.0h-1.05zM2322.57 734.00h1.05V1140.0h-1.05zM2323.83 397.00h1.05V1140.0h-1.05zM2325.10 944.89h1.05V1140.0h-1.05zM2326.36 915.59h1.05V1140.0h-1.05zM2327.63 897.42h1.05V1140.0h-1.05zM2328.89 878.63h1.05V1140.0h-1.05zM2330.15 852.52h1.05V1140.0h-1.05zM2331.42 838.05h1.05V1140.0h-1.05zM2332.68 777.00h1.05V1140.0h-1.05zM2333.95 848.47h1.05V1140.0h-1.05zM2335.21 850.17h1.05V1140.0h-1.05zM2336.48 821.02h1.05V1140.0h-1.05zM2337.74 855.90h1.05V1140.0h-1.05zM2339.00 891.32h1.05V1140.0h-1.05zM2340.27 814.00h1.05V1140.0h-1.05zM2341.53 721.00h1.05V1140.0h-1.05zM2342.80 838.89h1.05V1140.0h-1.05zM2344.06 809.90h1.05V1140.0h-1.05zM2345.33 878.83h1.05V1140.0h-1.05zM2346.59 910.46h1.05V1140.0h-1.05zM2347.86 851.76h1.05V1140.0h-1.05zM2349.12 810.80h1.05V1140.0h-1.05zM2350.38 704.00h1.05V1140.0h-1.05zM2351.65 824.83h1.05V1140.0h-1.05zM2352.91 791.34h1.05V1140.0h-1.05zM2354.18 870.97h1.05V1140.0h-1.05zM2355.44 819.75h1.05V1140.0h-1.05zM2356.71 741.94h1.05V1140.0h-1.05zM2357.97 697.00h1.05V1140.0h-1.05zM2359.23 870.56h1.05V1140.0h-1.05zM2360.50 862.95h1.05V1140.0h-1.05zM2361.76 793.82h1.05V1140.0h-1.05zM2363.03 786.93h1.05V1140.0h-1.05zM2364.29 831.48h1.05V1140.0h-1.05zM2365.56 881.93h1.05V1140.0h-1.05zM2366.82 773.83h1.05V1140.0h-1.05zM2368.08 726.00h1.05V1140.0h-1.05zM2369.35 858.68h1.05V1140.0h-1.05zM2370.61 808.84h1.05V1140.0h-1.05zM2371.88 762.78h1.05V1140.0h-1.05z" fill="#00D98C" fill-opacity="0.9"/>
<g font-family="'Liberation Sans', sans-serif" font-size="28" fill="#666"><text x="188" y="371.0" text-anchor="end" dominant-baseline="central" font-size="29.5" letter-spacing="-0.5">$900M</text><text x="188" y="456.0" text-anchor="end" dominant-baseline="central" font-size="29.5" letter-spacing="-0.5">$800M</text><text x="188" y="541.0" text-anchor="end" dominant-baseline="central" font-size="29.5" letter-spacing="-0.5">$700M</text><text x="188" y="626.1" text-anchor="end" dominant-baseline="central" font-size="29.5" letter-spacing="-0.5">$600M</text><text x="188" y="711.1" text-anchor="end" dominant-baseline="central" font-size="29.5" letter-spacing="-0.5">$500M</text><text x="188" y="796.1" text-anchor="end" dominant-baseline="central" font-size="29.5" letter-spacing="-0.5">$400M</text><text x="188" y="881.1" text-anchor="end" dominant-baseline="central" font-size="29.5" letter-spacing="-0.5">$300M</text><text x="188" y="966.2" text-anchor="end" dominant-baseline="central" font-size="29.5" letter-spacing="-0.5">$200M</text><text x="188" y="1051.2" text-anchor="end" dominant-baseline="central" font-size="29.5" letter-spacing="-0.5">$100M</text><text x="188" y="1136.2" text-anchor="end" dominant-baseline="central" font-size="29.5" letter-spacing="-0.5">0</text><text x="2415" y="371.0" dominant-baseline="central" font-size="29.5" letter-spacing="-0.5">60.0B</text><text x="2415" y="498.5" dominant-baseline="central" font-size="29.5" letter-spacing="-0.5">50.0B</text><text x="2415" y="626.0" dominant-baseline="central" font-size="29.5" letter-spacing="-0.5">40.0B</text><text x="2415" y="753.5" dominant-baseline="central" font-size="29.5" letter-spacing="-0.5">30.0B</text><text x="2415" y="881.0" dominant-baseline="central" font-size="29.5" letter-spacing="-0.5">20.0B</text><text x="2415" y="1008.5" dominant-baseline="central" font-size="29.5" letter-spacing="-0.5">10.0B</text><text x="2415" y="1136.0" dominant-baseline="central" font-size="29.5" letter-spacing="-0.5">0</text><text transform="translate(210.7 1172.0) rotate(-45)" text-anchor="end" dominant-baseline="central" font-size="28.8">Jun 28, 2021</text><text transform="translate(320.6 1172.0) rotate(-45)" text-anchor="end" dominant-baseline="central" font-size="28.8">Sep 23, 2021</text><text transform="translate(430.4 1172.0) rotate(-45)" text-anchor="end" dominant-baseline="central" font-size="28.8">Dec 19, 2021</text><text transform="translate(540.3 1172.0) rotate(-45)" text-anchor="end" dominant-baseline="central" font-size="28.8">Mar 16, 2022</text><text transform="translate(650.2 1172.0) rotate(-45)" text-anchor="end" dominant-baseline="central" font-size="28.8">Jun 11, 2022</text><text transform="translate(760.0 1172.0) rotate(-45)" text-anchor="end" dominant-baseline="central" font-size="28.8">Sep 6, 2022</text><text transform="translate(869.9 1172.0) rotate(-45)" text-anchor="end" dominant-baseline="central" font-size="28.8">Dec 2, 2022</text><text transform="translate(979.8 1172.0) rotate(-45)" text-anchor="end" dominant-baseline="central" font-size="28.8">Feb 27, 2023</text><text transform="translate(1089.7 1172.0) rotate(-45)" text-anchor="end" dominant-baseline="central" font-size="28.8">May 25, 2023</text><text transform="translate(1199.5 1172.0) rotate(-45)" text-anchor="end" dominant-baseline="central" font-size="28.8">Aug 20, 2023</text><text transform="translate(1309.4 1172.0) rotate(-45)" text-anchor="end" dominant-baseline="central" font-size="28.8">Nov 15, 2023</text><text transform="translate(1419.3 1172.0) rotate(-45)" text-anchor="end" dominant-baseline="central" font-size="28.8">Feb 10, 2024</text><text transform="translate(1529.1 1172.0) rotate(-45)" text-anchor="end" dominant-baseline="central" font-size="28.8">May 7, 2024</text><text transform="translate(1639.0 1172.0) rotate(-45)" text-anchor="end" dominant-baseline="central" font-size="28.8">Aug 2, 2024</text><text transform="translate(1748.9 1172.0) rotate(-45)" text-anchor="end" dominant-baseline="central" font-size="28.8">Oct 29, 2024</text><text transform="translate(1858.8 1172.0) rotate(-45)" text-anchor="end" dominant-baseline="central" font-size="28.8">Jan 30, 2025</text><text transform="translate(1968.6 1172.0) rotate(-45)" text-anchor="end" dominant-baseline="central" font-size="28.8">Apr 29, 2025</text><text transform="translate(2078.5 1172.0) rotate(-45)" text-anchor="end" dominant-baseline="central" font-size="28.8">Jul 26, 2025</text><text transform="translate(2188.4 1172.0) rotate(-45)" text-anchor="end" dominant-baseline="central" font-size="28.8">Oct 21, 2025</text><text transform="translate(2298.2 1172.0) rotate(-45)" text-anchor="end" dominant-baseline="central" font-size="28.8">Jan 19</text></g>
<g font-family="'Liberation Sans', sans-serif" font-size="32.7" fill="#666">
<circle cx="996" cy="336.5" r="23" fill="#6CE6B6" stroke="#1DD993" stroke-width="2.2"/>
<text x="1029.3" y="346.2">Daily Volume</text>
<circle cx="1297" cy="336.5" r="23" fill="#E4E0DA" stroke="#111" stroke-width="2.4"/>
<text x="1330" y="346.2">Cumulative Volume</text>
</g>
<text transform="translate(76.4 756) rotate(-90)" text-anchor="middle" font-family="'Liberation Sans', sans-serif" font-size="32.8" fill="#14D48F">Daily Volume</text>
<text transform="translate(2514.3 756.5) rotate(90)" text-anchor="middle" font-family="'Liberation Sans', sans-serif" font-size="32.8" fill="#111">Cumulative Volume</text>
</svg>
</body></html>
